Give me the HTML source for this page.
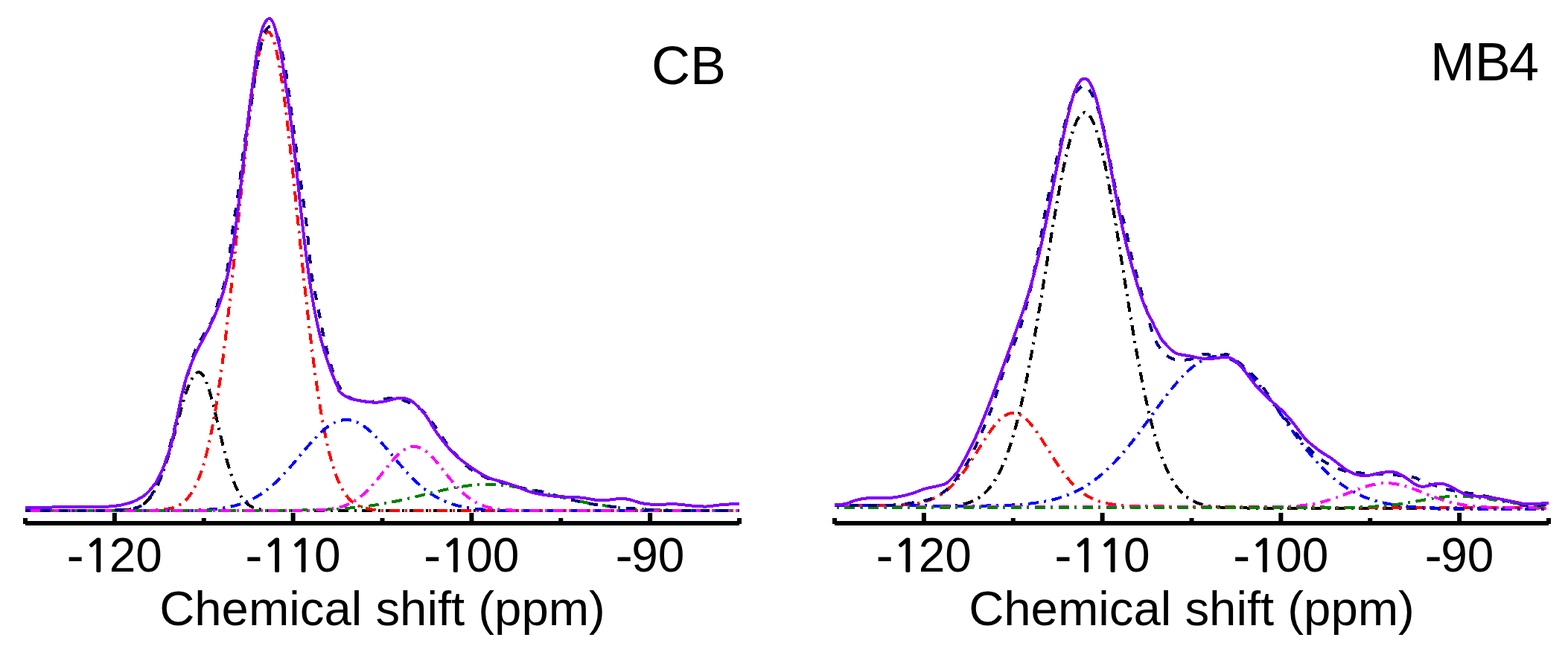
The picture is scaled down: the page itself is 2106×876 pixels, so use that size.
<!DOCTYPE html>
<html><head><meta charset="utf-8"><title>NMR spectra CB and MB4</title>
<style>
html,body{margin:0;padding:0;background:#fff;overflow:hidden;}
svg{display:block;}
text{font-family:"Liberation Sans",Arial,sans-serif;fill:#000;font-kerning:none;}
.tl{font-size:64px;}
.one{font-family:NanumGothic,"Liberation Sans",sans-serif;font-size:60px;stroke:#000;stroke-width:1.8px;}
.hy{font-size:70px;}
.at{font-size:65.3px;}
.tt{font-size:72px;}
</style></head>
<body>
<svg width="2106" height="876" viewBox="0 0 2106 876">
<rect width="2106" height="876" fill="#fff"/>
<g fill="none" stroke-width="4" stroke-linejoin="round" shape-rendering="crispEdges">
<path d="M34,686 L36,686 L38,686 L40,686 L42,686 L44,686 L46,686 L48,686 L50,686 L52,686 L54,686 L56,686 L58,686 L60,686 L62,686 L64,686 L66,686 L68,686 L70,686 L72,686 L74,686 L76,686 L78,686 L80,686 L82,686 L84,686 L86,686 L88,686 L90,686 L92,686 L94,686 L96,686 L98,686 L100,686 L102,686 L104,686 L106,686 L108,686 L110,686 L112,686 L114,686 L116,686 L118,686 L120,686 L122,686 L124,686 L126,686 L128,686 L130,686 L132,686 L134,686 L136,686 L138,686 L140,686 L142,686 L144,686 L146,685.9 L148,685.9 L150,685.9 L152,685.9 L154,685.8 L156,685.8 L158,685.7 L160,685.7 L162,685.6 L164,685.5 L166,685.4 L168,685.2 L170,685 L172,684.8 L174,684.5 L176,684.1 L178,683.7 L180,683.2 L182,682.6 L184,682 L186,681.1 L188,680.2 L190,679.1 L192,677.8 L194,676.4 L196,674.7 L198,672.8 L200,670.6 L202,668.2 L204,665.5 L206,662.5 L208,659.1 L210,655.4 L212,651.4 L214,646.9 L216,642.2 L218,637 L220,631.5 L222,625.6 L224,619.4 L226,612.9 L228,606.1 L230,599.1 L232,591.8 L234,584.4 L236,576.9 L238,569.4 L240,561.9 L242,554.6 L244,547.4 L246,540.4 L248,533.8 L250,527.6 L252,521.9 L254,516.7 L256,512.1 L258,508.2 L260,505 L262,502.6 L264,500.9 L266,500.1 L268,500.1 L270,501.2 L272,503.3 L274,506.4 L276,510.4 L278,515.4 L280,521.1 L282,527.5 L284,534.6 L286,542.2 L288,550.1 L290,558.4 L292,566.8 L294,575.3 L296,583.8 L298,592.2 L300,600.3 L302,608.2 L304,615.8 L306,623 L308,629.8 L310,636.1 L312,642 L314,647.4 L316,652.3 L318,656.8 L320,660.8 L322,664.4 L324,667.6 L326,670.4 L328,672.9 L330,675 L332,676.8 L334,678.4 L336,679.7 L338,680.9 L340,681.8 L342,682.6 L344,683.3 L346,683.8 L348,684.3 L350,684.6 L352,684.9 L354,685.2 L356,685.3 L358,685.5 L360,685.6 L362,685.7 L364,685.8 L366,685.8 L368,685.9 L370,685.9 L372,685.9 L374,685.9 L376,686 L378,686 L380,686 L382,686 L384,686 L386,686 L388,686 L390,686 L392,686 L394,686 L396,686 L398,686 L400,686 L402,686 L404,686 L406,686 L408,686 L410,686 L412,686 L414,686 L416,686 L418,686 L420,686 L422,686 L424,686 L426,686 L428,686 L430,686 L432,686 L434,686 L436,686 L438,686 L440,686 L442,686 L444,686 L446,686 L448,686 L450,686 L452,686 L454,686 L456,686 L458,686 L460,686 L462,686 L464,686 L466,686 L468,686 L470,686 L472,686 L474,686 L476,686 L478,686 L480,686 L482,686 L484,686 L486,686 L488,686 L490,686 L492,686 L494,686 L496,686 L498,686 L500,686 L502,686 L504,686 L506,686 L508,686 L510,686 L512,686 L514,686 L516,686 L518,686 L520,686 L522,686 L524,686 L526,686 L528,686 L530,686 L532,686 L534,686 L536,686 L538,686 L540,686 L542,686 L544,686 L546,686 L548,686 L550,686 L552,686 L554,686 L556,686 L558,686 L560,686 L562,686 L564,686 L566,686 L568,686 L570,686 L572,686 L574,686 L576,686 L578,686 L580,686 L582,686 L584,686 L586,686 L588,686 L590,686 L592,686 L594,686 L596,686 L598,686 L600,686 L602,686 L604,686 L606,686 L608,686 L610,686 L612,686 L614,686 L616,686 L618,686 L620,686 L622,686 L624,686 L626,686 L628,686 L630,686 L632,686 L634,686 L636,686 L638,686 L640,686 L642,686 L644,686 L646,686 L648,686 L650,686 L652,686 L654,686 L656,686 L658,686 L660,686 L662,686 L664,686 L666,686 L668,686 L670,686 L672,686 L674,686 L676,686 L678,686 L680,686 L682,686 L684,686 L686,686 L688,686 L690,686 L692,686 L694,686 L696,686 L698,686 L700,686 L702,686 L704,686 L706,686 L708,686 L710,686 L712,686 L714,686 L716,686 L718,686 L720,686 L722,686 L724,686 L726,686 L728,686 L730,686 L732,686 L734,686 L736,686 L738,686 L740,686 L742,686 L744,686 L746,686 L748,686 L750,686 L752,686 L754,686 L756,686 L758,686 L760,686 L762,686 L764,686 L766,686 L768,686 L770,686 L772,686 L774,686 L776,686 L778,686 L780,686 L782,686 L784,686 L786,686 L788,686 L790,686 L792,686 L794,686 L796,686 L798,686 L800,686 L802,686 L804,686 L806,686 L808,686 L810,686 L812,686 L814,686 L816,686 L818,686 L820,686 L822,686 L824,686 L826,686 L828,686 L830,686 L832,686 L834,686 L836,686 L838,686 L840,686 L842,686 L844,686 L846,686 L848,686 L850,686 L852,686 L854,686 L856,686 L858,686 L860,686 L862,686 L864,686 L866,686 L868,686 L870,686 L872,686 L874,686 L876,686 L878,686 L880,686 L882,686 L884,686 L886,686 L888,686 L890,686 L892,686 L894,686 L896,686 L898,686 L900,686 L902,686 L904,686 L906,686 L908,686 L910,686 L912,686 L914,686 L916,686 L918,686 L920,686 L922,686 L924,686 L926,686 L928,686 L930,686 L932,686 L934,686 L936,686 L938,686 L940,686 L942,686 L944,686 L946,686 L948,686 L950,686 L952,686 L954,686 L956,686 L958,686 L960,686 L962,686 L964,686 L966,686 L968,686 L970,686 L972,686 L974,686 L976,686 L978,686 L980,686 L982,686 L984,686 L986,686 L988,686 L990,686 L992,686 L993,686" stroke="#000000" stroke-dasharray="14 7.5 3 7.5" stroke-dashoffset="0"/>
<path d="M34,686 L36,686 L38,686 L40,686 L42,686 L44,686 L46,686 L48,686 L50,686 L52,686 L54,686 L56,686 L58,686 L60,686 L62,686 L64,686 L66,686 L68,686 L70,686 L72,686 L74,686 L76,686 L78,686 L80,686 L82,686 L84,686 L86,686 L88,686 L90,686 L92,686 L94,686 L96,686 L98,686 L100,686 L102,686 L104,686 L106,686 L108,686 L110,686 L112,686 L114,686 L116,686 L118,686 L120,686 L122,686 L124,686 L126,686 L128,686 L130,686 L132,686 L134,686 L136,686 L138,686 L140,686 L142,686 L144,686 L146,686 L148,686 L150,686 L152,686 L154,686 L156,686 L158,686 L160,686 L162,686 L164,686 L166,686 L168,686 L170,686 L172,686 L174,686 L176,686 L178,686 L180,686 L182,686 L184,686 L186,685.9 L188,685.9 L190,685.9 L192,685.9 L194,685.9 L196,685.9 L198,685.8 L200,685.8 L202,685.7 L204,685.7 L206,685.6 L208,685.5 L210,685.4 L212,685.3 L214,685.2 L216,685 L218,684.8 L220,684.6 L222,684.3 L224,684 L226,683.6 L228,683.2 L230,682.7 L232,682.2 L234,681.5 L236,680.7 L238,679.9 L240,678.9 L242,677.7 L244,676.4 L246,674.9 L248,673.2 L250,671.3 L252,669.2 L254,666.8 L256,664.1 L258,661.1 L260,657.7 L262,654 L264,649.9 L266,645.4 L268,640.3 L270,634.8 L272,628.8 L274,622.3 L276,615.1 L278,607.4 L280,599 L282,589.9 L284,580.2 L286,569.8 L288,558.8 L290,546.9 L292,534.4 L294,521.2 L296,507.2 L298,492.6 L300,477.2 L302,461.3 L304,444.7 L306,427.5 L308,409.8 L310,391.6 L312,373 L314,354.1 L316,334.9 L318,315.5 L320,296 L322,276.5 L324,257.1 L326,238 L328,219.1 L330,200.6 L332,182.7 L334,165.4 L336,148.9 L338,133.3 L340,118.6 L342,104.9 L344,92.4 L346,81.2 L348,71.3 L350,62.8 L352,55.7 L354,50.2 L356,46.2 L358,43.8 L360,43 L362,43.8 L364,46.2 L366,50.2 L368,55.7 L370,62.8 L372,71.3 L374,81.2 L376,92.4 L378,104.9 L380,118.6 L382,133.3 L384,148.9 L386,165.4 L388,182.7 L390,200.6 L392,219.1 L394,238 L396,257.1 L398,276.5 L400,296 L402,315.5 L404,334.9 L406,354.1 L408,373 L410,391.6 L412,409.8 L414,427.5 L416,444.7 L418,461.3 L420,477.2 L422,492.6 L424,507.2 L426,521.2 L428,534.4 L430,546.9 L432,558.8 L434,569.8 L436,580.2 L438,589.9 L440,599 L442,607.4 L444,615.1 L446,622.3 L448,628.8 L450,634.8 L452,640.3 L454,645.4 L456,649.9 L458,654 L460,657.7 L462,661.1 L464,664.1 L466,666.8 L468,669.2 L470,671.3 L472,673.2 L474,674.9 L476,676.4 L478,677.7 L480,678.9 L482,679.9 L484,680.7 L486,681.5 L488,682.2 L490,682.7 L492,683.2 L494,683.6 L496,684 L498,684.3 L500,684.6 L502,684.8 L504,685 L506,685.2 L508,685.3 L510,685.4 L512,685.5 L514,685.6 L516,685.7 L518,685.7 L520,685.8 L522,685.8 L524,685.9 L526,685.9 L528,685.9 L530,685.9 L532,685.9 L534,685.9 L536,686 L538,686 L540,686 L542,686 L544,686 L546,686 L548,686 L550,686 L552,686 L554,686 L556,686 L558,686 L560,686 L562,686 L564,686 L566,686 L568,686 L570,686 L572,686 L574,686 L576,686 L578,686 L580,686 L582,686 L584,686 L586,686 L588,686 L590,686 L592,686 L594,686 L596,686 L598,686 L600,686 L602,686 L604,686 L606,686 L608,686 L610,686 L612,686 L614,686 L616,686 L618,686 L620,686 L622,686 L624,686 L626,686 L628,686 L630,686 L632,686 L634,686 L636,686 L638,686 L640,686 L642,686 L644,686 L646,686 L648,686 L650,686 L652,686 L654,686 L656,686 L658,686 L660,686 L662,686 L664,686 L666,686 L668,686 L670,686 L672,686 L674,686 L676,686 L678,686 L680,686 L682,686 L684,686 L686,686 L688,686 L690,686 L692,686 L694,686 L696,686 L698,686 L700,686 L702,686 L704,686 L706,686 L708,686 L710,686 L712,686 L714,686 L716,686 L718,686 L720,686 L722,686 L724,686 L726,686 L728,686 L730,686 L732,686 L734,686 L736,686 L738,686 L740,686 L742,686 L744,686 L746,686 L748,686 L750,686 L752,686 L754,686 L756,686 L758,686 L760,686 L762,686 L764,686 L766,686 L768,686 L770,686 L772,686 L774,686 L776,686 L778,686 L780,686 L782,686 L784,686 L786,686 L788,686 L790,686 L792,686 L794,686 L796,686 L798,686 L800,686 L802,686 L804,686 L806,686 L808,686 L810,686 L812,686 L814,686 L816,686 L818,686 L820,686 L822,686 L824,686 L826,686 L828,686 L830,686 L832,686 L834,686 L836,686 L838,686 L840,686 L842,686 L844,686 L846,686 L848,686 L850,686 L852,686 L854,686 L856,686 L858,686 L860,686 L862,686 L864,686 L866,686 L868,686 L870,686 L872,686 L874,686 L876,686 L878,686 L880,686 L882,686 L884,686 L886,686 L888,686 L890,686 L892,686 L894,686 L896,686 L898,686 L900,686 L902,686 L904,686 L906,686 L908,686 L910,686 L912,686 L914,686 L916,686 L918,686 L920,686 L922,686 L924,686 L926,686 L928,686 L930,686 L932,686 L934,686 L936,686 L938,686 L940,686 L942,686 L944,686 L946,686 L948,686 L950,686 L952,686 L954,686 L956,686 L958,686 L960,686 L962,686 L964,686 L966,686 L968,686 L970,686 L972,686 L974,686 L976,686 L978,686 L980,686 L982,686 L984,686 L986,686 L988,686 L990,686 L992,686 L993,686" stroke="#FF0000" stroke-dasharray="14 7.5 3 7.5" stroke-dashoffset="6"/>
<path d="M34,686 L36,686 L38,686 L40,686 L42,686 L44,686 L46,686 L48,686 L50,686 L52,686 L54,686 L56,686 L58,686 L60,686 L62,686 L64,686 L66,686 L68,686 L70,686 L72,686 L74,686 L76,686 L78,686 L80,686 L82,686 L84,686 L86,686 L88,686 L90,686 L92,686 L94,686 L96,686 L98,686 L100,686 L102,686 L104,686 L106,686 L108,686 L110,686 L112,686 L114,686 L116,686 L118,686 L120,686 L122,686 L124,686 L126,686 L128,686 L130,686 L132,686 L134,686 L136,686 L138,686 L140,686 L142,686 L144,686 L146,686 L148,686 L150,686 L152,686 L154,686 L156,686 L158,686 L160,686 L162,686 L164,686 L166,686 L168,686 L170,686 L172,686 L174,686 L176,686 L178,686 L180,686 L182,686 L184,686 L186,686 L188,686 L190,686 L192,686 L194,686 L196,686 L198,686 L200,686 L202,686 L204,686 L206,686 L208,686 L210,686 L212,686 L214,686 L216,686 L218,686 L220,686 L222,685.9 L224,685.9 L226,685.9 L228,685.9 L230,685.9 L232,685.9 L234,685.9 L236,685.9 L238,685.9 L240,685.8 L242,685.8 L244,685.8 L246,685.8 L248,685.7 L250,685.7 L252,685.7 L254,685.6 L256,685.6 L258,685.5 L260,685.5 L262,685.4 L264,685.4 L266,685.3 L268,685.2 L270,685.1 L272,685 L274,684.9 L276,684.8 L278,684.7 L280,684.6 L282,684.4 L284,684.3 L286,684.1 L288,683.9 L290,683.7 L292,683.5 L294,683.3 L296,683 L298,682.8 L300,682.5 L302,682.1 L304,681.8 L306,681.4 L308,681.1 L310,680.6 L312,680.2 L314,679.7 L316,679.2 L318,678.7 L320,678.1 L322,677.5 L324,676.8 L326,676.1 L328,675.4 L330,674.6 L332,673.8 L334,672.9 L336,672 L338,671 L340,670 L342,669 L344,667.8 L346,666.7 L348,665.4 L350,664.2 L352,662.8 L354,661.4 L356,660 L358,658.5 L360,656.9 L362,655.3 L364,653.6 L366,651.9 L368,650.1 L370,648.3 L372,646.4 L374,644.5 L376,642.5 L378,640.4 L380,638.3 L382,636.2 L384,634 L386,631.8 L388,629.6 L390,627.3 L392,625 L394,622.7 L396,620.3 L398,618 L400,615.6 L402,613.2 L404,610.8 L406,608.4 L408,606 L410,603.7 L412,601.3 L414,599 L416,596.7 L418,594.5 L420,592.3 L422,590.1 L424,588 L426,585.9 L428,583.9 L430,582 L432,580.1 L434,578.3 L436,576.6 L438,575 L440,573.5 L442,572.1 L444,570.8 L446,569.6 L448,568.5 L450,567.5 L452,566.7 L454,565.9 L456,565.3 L458,564.8 L460,564.4 L462,564.1 L464,564 L466,564 L468,564.1 L470,564.4 L472,564.8 L474,565.3 L476,565.9 L478,566.7 L480,567.5 L482,568.5 L484,569.6 L486,570.8 L488,572.1 L490,573.5 L492,575 L494,576.6 L496,578.3 L498,580.1 L500,582 L502,583.9 L504,585.9 L506,588 L508,590.1 L510,592.3 L512,594.5 L514,596.7 L516,599 L518,601.3 L520,603.7 L522,606 L524,608.4 L526,610.8 L528,613.2 L530,615.6 L532,618 L534,620.3 L536,622.7 L538,625 L540,627.3 L542,629.6 L544,631.8 L546,634 L548,636.2 L550,638.3 L552,640.4 L554,642.5 L556,644.5 L558,646.4 L560,648.3 L562,650.1 L564,651.9 L566,653.6 L568,655.3 L570,656.9 L572,658.5 L574,660 L576,661.4 L578,662.8 L580,664.2 L582,665.4 L584,666.7 L586,667.8 L588,669 L590,670 L592,671 L594,672 L596,672.9 L598,673.8 L600,674.6 L602,675.4 L604,676.1 L606,676.8 L608,677.5 L610,678.1 L612,678.7 L614,679.2 L616,679.7 L618,680.2 L620,680.6 L622,681.1 L624,681.4 L626,681.8 L628,682.1 L630,682.5 L632,682.8 L634,683 L636,683.3 L638,683.5 L640,683.7 L642,683.9 L644,684.1 L646,684.3 L648,684.4 L650,684.6 L652,684.7 L654,684.8 L656,684.9 L658,685 L660,685.1 L662,685.2 L664,685.3 L666,685.4 L668,685.4 L670,685.5 L672,685.5 L674,685.6 L676,685.6 L678,685.7 L680,685.7 L682,685.7 L684,685.8 L686,685.8 L688,685.8 L690,685.8 L692,685.9 L694,685.9 L696,685.9 L698,685.9 L700,685.9 L702,685.9 L704,685.9 L706,685.9 L708,685.9 L710,686 L712,686 L714,686 L716,686 L718,686 L720,686 L722,686 L724,686 L726,686 L728,686 L730,686 L732,686 L734,686 L736,686 L738,686 L740,686 L742,686 L744,686 L746,686 L748,686 L750,686 L752,686 L754,686 L756,686 L758,686 L760,686 L762,686 L764,686 L766,686 L768,686 L770,686 L772,686 L774,686 L776,686 L778,686 L780,686 L782,686 L784,686 L786,686 L788,686 L790,686 L792,686 L794,686 L796,686 L798,686 L800,686 L802,686 L804,686 L806,686 L808,686 L810,686 L812,686 L814,686 L816,686 L818,686 L820,686 L822,686 L824,686 L826,686 L828,686 L830,686 L832,686 L834,686 L836,686 L838,686 L840,686 L842,686 L844,686 L846,686 L848,686 L850,686 L852,686 L854,686 L856,686 L858,686 L860,686 L862,686 L864,686 L866,686 L868,686 L870,686 L872,686 L874,686 L876,686 L878,686 L880,686 L882,686 L884,686 L886,686 L888,686 L890,686 L892,686 L894,686 L896,686 L898,686 L900,686 L902,686 L904,686 L906,686 L908,686 L910,686 L912,686 L914,686 L916,686 L918,686 L920,686 L922,686 L924,686 L926,686 L928,686 L930,686 L932,686 L934,686 L936,686 L938,686 L940,686 L942,686 L944,686 L946,686 L948,686 L950,686 L952,686 L954,686 L956,686 L958,686 L960,686 L962,686 L964,686 L966,686 L968,686 L970,686 L972,686 L974,686 L976,686 L978,686 L980,686 L982,686 L984,686 L986,686 L988,686 L990,686 L992,686 L993,686" stroke="#0000FF" stroke-dasharray="14 7.5 3 7.5" stroke-dashoffset="12"/>
<path d="M34,686 L36,686 L38,686 L40,686 L42,686 L44,686 L46,686 L48,686 L50,686 L52,686 L54,686 L56,686 L58,686 L60,686 L62,686 L64,686 L66,686 L68,686 L70,686 L72,686 L74,686 L76,686 L78,686 L80,686 L82,686 L84,686 L86,686 L88,686 L90,686 L92,686 L94,686 L96,686 L98,686 L100,686 L102,686 L104,686 L106,686 L108,686 L110,686 L112,686 L114,686 L116,686 L118,686 L120,686 L122,686 L124,686 L126,686 L128,686 L130,686 L132,686 L134,686 L136,686 L138,686 L140,686 L142,686 L144,686 L146,686 L148,686 L150,686 L152,686 L154,686 L156,686 L158,686 L160,686 L162,686 L164,686 L166,686 L168,686 L170,686 L172,686 L174,686 L176,686 L178,686 L180,686 L182,686 L184,686 L186,686 L188,686 L190,686 L192,686 L194,686 L196,686 L198,686 L200,686 L202,686 L204,686 L206,686 L208,686 L210,686 L212,686 L214,686 L216,686 L218,686 L220,686 L222,686 L224,686 L226,686 L228,686 L230,686 L232,686 L234,686 L236,686 L238,686 L240,686 L242,686 L244,686 L246,686 L248,686 L250,686 L252,686 L254,686 L256,686 L258,686 L260,686 L262,686 L264,686 L266,686 L268,686 L270,686 L272,686 L274,686 L276,686 L278,686 L280,686 L282,686 L284,686 L286,686 L288,686 L290,686 L292,686 L294,686 L296,686 L298,686 L300,686 L302,686 L304,686 L306,686 L308,686 L310,686 L312,686 L314,686 L316,686 L318,686 L320,686 L322,686 L324,686 L326,686 L328,686 L330,686 L332,686 L334,686 L336,686 L338,686 L340,686 L342,686 L344,685.9 L346,685.9 L348,685.9 L350,685.9 L352,685.9 L354,685.9 L356,685.9 L358,685.9 L360,685.9 L362,685.9 L364,685.9 L366,685.9 L368,685.9 L370,685.9 L372,685.8 L374,685.8 L376,685.8 L378,685.8 L380,685.8 L382,685.8 L384,685.8 L386,685.7 L388,685.7 L390,685.7 L392,685.7 L394,685.7 L396,685.6 L398,685.6 L400,685.6 L402,685.5 L404,685.5 L406,685.5 L408,685.4 L410,685.4 L412,685.4 L414,685.3 L416,685.3 L418,685.2 L420,685.2 L422,685.1 L424,685.1 L426,685 L428,684.9 L430,684.9 L432,684.8 L434,684.7 L436,684.6 L438,684.5 L440,684.5 L442,684.4 L444,684.3 L446,684.2 L448,684.1 L450,684 L452,683.8 L454,683.7 L456,683.6 L458,683.5 L460,683.3 L462,683.2 L464,683 L466,682.9 L468,682.7 L470,682.5 L472,682.4 L474,682.2 L476,682 L478,681.8 L480,681.6 L482,681.4 L484,681.2 L486,680.9 L488,680.7 L490,680.4 L492,680.2 L494,679.9 L496,679.7 L498,679.4 L500,679.1 L502,678.8 L504,678.5 L506,678.2 L508,677.9 L510,677.6 L512,677.2 L514,676.9 L516,676.5 L518,676.2 L520,675.8 L522,675.4 L524,675 L526,674.6 L528,674.2 L530,673.8 L532,673.4 L534,673 L536,672.6 L538,672.1 L540,671.7 L542,671.2 L544,670.8 L546,670.3 L548,669.9 L550,669.4 L552,668.9 L554,668.4 L556,668 L558,667.5 L560,667 L562,666.5 L564,666 L566,665.5 L568,665 L570,664.5 L572,664 L574,663.5 L576,663 L578,662.6 L580,662.1 L582,661.6 L584,661.1 L586,660.6 L588,660.2 L590,659.7 L592,659.2 L594,658.8 L596,658.3 L598,657.9 L600,657.5 L602,657.1 L604,656.6 L606,656.2 L608,655.9 L610,655.5 L612,655.1 L614,654.8 L616,654.4 L618,654.1 L620,653.8 L622,653.5 L624,653.2 L626,652.9 L628,652.7 L630,652.4 L632,652.2 L634,652 L636,651.8 L638,651.7 L640,651.5 L642,651.4 L644,651.3 L646,651.2 L648,651.1 L650,651.1 L652,651 L654,651 L656,651 L658,651 L660,651.1 L662,651.1 L664,651.2 L666,651.3 L668,651.4 L670,651.5 L672,651.7 L674,651.8 L676,652 L678,652.2 L680,652.4 L682,652.7 L684,652.9 L686,653.2 L688,653.5 L690,653.8 L692,654.1 L694,654.4 L696,654.8 L698,655.1 L700,655.5 L702,655.9 L704,656.2 L706,656.6 L708,657.1 L710,657.5 L712,657.9 L714,658.3 L716,658.8 L718,659.2 L720,659.7 L722,660.2 L724,660.6 L726,661.1 L728,661.6 L730,662.1 L732,662.6 L734,663 L736,663.5 L738,664 L740,664.5 L742,665 L744,665.5 L746,666 L748,666.5 L750,667 L752,667.5 L754,668 L756,668.4 L758,668.9 L760,669.4 L762,669.9 L764,670.3 L766,670.8 L768,671.2 L770,671.7 L772,672.1 L774,672.6 L776,673 L778,673.4 L780,673.8 L782,674.2 L784,674.6 L786,675 L788,675.4 L790,675.8 L792,676.2 L794,676.5 L796,676.9 L798,677.2 L800,677.6 L802,677.9 L804,678.2 L806,678.5 L808,678.8 L810,679.1 L812,679.4 L814,679.7 L816,679.9 L818,680.2 L820,680.4 L822,680.7 L824,680.9 L826,681.2 L828,681.4 L830,681.6 L832,681.8 L834,682 L836,682.2 L838,682.4 L840,682.5 L842,682.7 L844,682.9 L846,683 L848,683.2 L850,683.3 L852,683.5 L854,683.6 L856,683.7 L858,683.8 L860,684 L862,684.1 L864,684.2 L866,684.3 L868,684.4 L870,684.5 L872,684.5 L874,684.6 L876,684.7 L878,684.8 L880,684.9 L882,684.9 L884,685 L886,685.1 L888,685.1 L890,685.2 L892,685.2 L894,685.3 L896,685.3 L898,685.4 L900,685.4 L902,685.4 L904,685.5 L906,685.5 L908,685.5 L910,685.6 L912,685.6 L914,685.6 L916,685.7 L918,685.7 L920,685.7 L922,685.7 L924,685.7 L926,685.8 L928,685.8 L930,685.8 L932,685.8 L934,685.8 L936,685.8 L938,685.8 L940,685.9 L942,685.9 L944,685.9 L946,685.9 L948,685.9 L950,685.9 L952,685.9 L954,685.9 L956,685.9 L958,685.9 L960,685.9 L962,685.9 L964,685.9 L966,685.9 L968,686 L970,686 L972,686 L974,686 L976,686 L978,686 L980,686 L982,686 L984,686 L986,686 L988,686 L990,686 L992,686 L993,686" stroke="#008000" stroke-dasharray="14 7.5 3 7.5" stroke-dashoffset="19"/>
<path d="M34,686 L36,686 L38,686 L40,686 L42,686 L44,686 L46,686 L48,686 L50,686 L52,686 L54,686 L56,686 L58,686 L60,686 L62,686 L64,686 L66,686 L68,686 L70,686 L72,686 L74,686 L76,686 L78,686 L80,686 L82,686 L84,686 L86,686 L88,686 L90,686 L92,686 L94,686 L96,686 L98,686 L100,686 L102,686 L104,686 L106,686 L108,686 L110,686 L112,686 L114,686 L116,686 L118,686 L120,686 L122,686 L124,686 L126,686 L128,686 L130,686 L132,686 L134,686 L136,686 L138,686 L140,686 L142,686 L144,686 L146,686 L148,686 L150,686 L152,686 L154,686 L156,686 L158,686 L160,686 L162,686 L164,686 L166,686 L168,686 L170,686 L172,686 L174,686 L176,686 L178,686 L180,686 L182,686 L184,686 L186,686 L188,686 L190,686 L192,686 L194,686 L196,686 L198,686 L200,686 L202,686 L204,686 L206,686 L208,686 L210,686 L212,686 L214,686 L216,686 L218,686 L220,686 L222,686 L224,686 L226,686 L228,686 L230,686 L232,686 L234,686 L236,686 L238,686 L240,686 L242,686 L244,686 L246,686 L248,686 L250,686 L252,686 L254,686 L256,686 L258,686 L260,686 L262,686 L264,686 L266,686 L268,686 L270,686 L272,686 L274,686 L276,686 L278,686 L280,686 L282,686 L284,686 L286,686 L288,686 L290,686 L292,686 L294,686 L296,686 L298,686 L300,686 L302,686 L304,686 L306,686 L308,686 L310,686 L312,686 L314,686 L316,686 L318,686 L320,686 L322,686 L324,686 L326,686 L328,686 L330,686 L332,686 L334,686 L336,686 L338,686 L340,686 L342,686 L344,686 L346,686 L348,686 L350,686 L352,686 L354,686 L356,686 L358,686 L360,686 L362,686 L364,686 L366,686 L368,686 L370,686 L372,686 L374,686 L376,686 L378,686 L380,686 L382,686 L384,686 L386,686 L388,686 L390,686 L392,686 L394,686 L396,686 L398,685.9 L400,685.9 L402,685.9 L404,685.9 L406,685.9 L408,685.9 L410,685.8 L412,685.8 L414,685.8 L416,685.7 L418,685.7 L420,685.6 L422,685.6 L424,685.5 L426,685.4 L428,685.3 L430,685.2 L432,685.1 L434,685 L436,684.8 L438,684.6 L440,684.4 L442,684.2 L444,683.9 L446,683.6 L448,683.3 L450,683 L452,682.6 L454,682.1 L456,681.6 L458,681.1 L460,680.5 L462,679.8 L464,679.1 L466,678.3 L468,677.4 L470,676.5 L472,675.5 L474,674.4 L476,673.2 L478,671.9 L480,670.6 L482,669.1 L484,667.6 L486,666 L488,664.3 L490,662.5 L492,660.6 L494,658.6 L496,656.5 L498,654.4 L500,652.2 L502,649.9 L504,647.5 L506,645.1 L508,642.7 L510,640.2 L512,637.6 L514,635.1 L516,632.6 L518,630 L520,627.5 L522,625 L524,622.6 L526,620.2 L528,617.9 L530,615.7 L532,613.5 L534,611.5 L536,609.6 L538,607.9 L540,606.3 L542,604.9 L544,603.6 L546,602.5 L548,601.6 L550,600.9 L552,600.4 L554,600.1 L556,600 L558,600.1 L560,600.4 L562,600.9 L564,601.6 L566,602.5 L568,603.6 L570,604.9 L572,606.3 L574,607.9 L576,609.6 L578,611.5 L580,613.5 L582,615.7 L584,617.9 L586,620.2 L588,622.6 L590,625 L592,627.5 L594,630 L596,632.6 L598,635.1 L600,637.6 L602,640.2 L604,642.7 L606,645.1 L608,647.5 L610,649.9 L612,652.2 L614,654.4 L616,656.5 L618,658.6 L620,660.6 L622,662.5 L624,664.3 L626,666 L628,667.6 L630,669.1 L632,670.6 L634,671.9 L636,673.2 L638,674.4 L640,675.5 L642,676.5 L644,677.4 L646,678.3 L648,679.1 L650,679.8 L652,680.5 L654,681.1 L656,681.6 L658,682.1 L660,682.6 L662,683 L664,683.3 L666,683.6 L668,683.9 L670,684.2 L672,684.4 L674,684.6 L676,684.8 L678,685 L680,685.1 L682,685.2 L684,685.3 L686,685.4 L688,685.5 L690,685.6 L692,685.6 L694,685.7 L696,685.7 L698,685.8 L700,685.8 L702,685.8 L704,685.9 L706,685.9 L708,685.9 L710,685.9 L712,685.9 L714,685.9 L716,686 L718,686 L720,686 L722,686 L724,686 L726,686 L728,686 L730,686 L732,686 L734,686 L736,686 L738,686 L740,686 L742,686 L744,686 L746,686 L748,686 L750,686 L752,686 L754,686 L756,686 L758,686 L760,686 L762,686 L764,686 L766,686 L768,686 L770,686 L772,686 L774,686 L776,686 L778,686 L780,686 L782,686 L784,686 L786,686 L788,686 L790,686 L792,686 L794,686 L796,686 L798,686 L800,686 L802,686 L804,686 L806,686 L808,686 L810,686 L812,686 L814,686 L816,686 L818,686 L820,686 L822,686 L824,686 L826,686 L828,686 L830,686 L832,686 L834,686 L836,686 L838,686 L840,686 L842,686 L844,686 L846,686 L848,686 L850,686 L852,686 L854,686 L856,686 L858,686 L860,686 L862,686 L864,686 L866,686 L868,686 L870,686 L872,686 L874,686 L876,686 L878,686 L880,686 L882,686 L884,686 L886,686 L888,686 L890,686 L892,686 L894,686 L896,686 L898,686 L900,686 L902,686 L904,686 L906,686 L908,686 L910,686 L912,686 L914,686 L916,686 L918,686 L920,686 L922,686 L924,686 L926,686 L928,686 L930,686 L932,686 L934,686 L936,686 L938,686 L940,686 L942,686 L944,686 L946,686 L948,686 L950,686 L952,686 L954,686 L956,686 L958,686 L960,686 L962,686 L964,686 L966,686 L968,686 L970,686 L972,686 L974,686 L976,686 L978,686 L980,686 L982,686 L984,686 L986,686 L988,686 L990,686 L992,686 L993,686" stroke="#FF00FF" stroke-dasharray="14 7.5 3 7.5" stroke-dashoffset="26"/>
<path d="M34,686 C45,686 80.7,686.1 100,686 C119.3,685.9 139.2,685.7 150,685.5 C160.8,685.3 160.3,685.4 165,685 C169.7,684.6 174,683.8 178,683 C182,682.2 185.3,682.2 189,680 C192.7,677.8 196.8,673.8 200,670 C203.2,666.2 205.7,661.7 208,657.5 C210.3,653.3 212,649.9 214,645 C216,640.1 218,634.3 220,628 C222,621.7 224,614.2 226,607 C228,599.8 230.1,592.3 232,585 C233.9,577.7 235.2,572.8 237.5,563 C239.8,553.2 243.5,536 246,526 C248.5,516 250.2,511.2 252.5,503 C254.8,494.8 256.9,485.2 260,477 C263.1,468.8 266.8,461.8 271,454 C275.2,446.2 281.2,438.5 285,430 C288.8,421.5 290.8,413 294,403 C297.2,393 300.8,386.3 304,370 C307.2,353.7 310.2,324.7 313,305 C315.8,285.3 318.5,270 321,251.7 C323.5,233.4 325.5,211.9 328,195 C330.5,178.1 333.5,165.5 336,150 C338.5,134.5 341,114.5 343,102 C345,89.5 346.4,83.7 348,75 C349.6,66.3 351.2,55.5 352.5,50 C353.8,44.5 354.4,44.3 356,42 C357.6,39.7 360,36.3 362,36 C364,35.7 366,37.3 368,40 C370,42.7 372,46.2 374,52 C376,57.8 378.1,66 380,75 C381.9,84 382.8,86.8 385.5,106 C388.2,125.2 393.2,165.7 396.5,190 C399.8,214.3 402.4,232.8 405,252 C407.6,271.2 409.8,286.2 412,305 C414.2,323.8 416.5,352 418,365 C419.5,378 419.8,376.3 421,383 C422.2,389.7 424,397.5 425.5,405 C427,412.5 428.5,420.3 430,428 C431.5,435.7 432.8,443.3 434.5,451 C436.2,458.7 438,466.3 440,474 C442,481.7 444,489.7 446.5,497 C449,504.3 451.8,512.2 455,518 C458.2,523.8 461.5,528.6 466,532 C470.5,535.4 476.2,537.2 482,538.5 C487.8,539.8 495.2,539.9 501,539.5 C506.8,539.1 512.3,536.8 517,536 C521.7,535.2 525.2,534.8 529,535 C532.8,535.2 535.7,535.5 540,537 C544.3,538.5 550.2,541.2 555,544 C559.8,546.8 563.8,548.3 569,553.5 C574.2,558.7 580.8,567.9 586,575 C591.2,582.1 594.8,589.2 600,596 C605.2,602.8 611.5,610.2 617,616 C622.5,621.8 626.5,626.5 633,631 C639.5,635.5 648,639.8 656,643 C664,646.2 672.8,647.8 681,650 C689.2,652.2 696.8,654.7 705,656.5 C713.2,658.3 721.5,659 730,661 C738.5,663 747.9,666.4 756,668.6 C764.1,670.8 771,672.4 778.8,674 C786.6,675.6 794.6,677.2 803,678.5 C811.4,679.8 820.7,680.7 829,681.5 C837.3,682.3 844.9,682.9 853,683.5 C861.1,684.1 868.1,684.6 877.6,685 C887.1,685.4 890.8,685.8 910,686 C929.2,686.2 979.2,686 993,686" stroke="#000080" stroke-dasharray="12 13" stroke-dashoffset="5"/>
<path d="M34,682.5 C38.3,682.4 49,682.1 60,681.8 C71,681.5 89.3,680.9 100,680.8 C110.7,680.7 116,681.1 124,681 C132,680.9 141.3,680.9 148,680.4 C154.7,679.9 158.7,679.4 164,678.3 C169.3,677.1 174.7,675.9 180,673.5 C185.3,671.1 191.2,668 196,664 C200.8,660 205.9,652.9 208.6,649.5 C211.2,646.1 210.9,645.5 212,643.5 C213,641.5 214.1,639.4 215.1,637.4 C216.1,635.4 217,633.4 217.9,631.4 C218.8,629.4 219.7,627.4 220.5,625.4 C221.3,623.3 222.1,621.3 222.8,619.3 C223.6,617.3 224.3,615.3 225,613.3 C225.7,611.3 226.3,609.3 227,607.3 C227.6,605.2 228.2,603.2 228.7,601.2 C229.3,599.2 229.9,597.2 230.4,595.2 C230.9,593.2 231.4,591.2 231.9,589.1 C232.4,587.1 232.9,585.1 233.3,583.1 C233.8,581.1 234.2,579.1 234.6,577.1 C235.1,575.1 235.5,573 235.9,571 C236.3,569 236.7,567 237.1,565 C237.5,563 237.9,561 238.3,559 C238.7,557 239.1,554.9 239.5,552.9 C239.9,550.9 240.3,548.9 240.7,546.9 C241.1,544.9 241.5,542.9 241.9,540.9 C242.3,538.8 242.8,536.8 243.2,534.8 C243.7,532.8 244.1,530.8 244.6,528.8 C245.1,526.8 245.5,524.8 246,522.8 C246.6,520.7 247.1,518.7 247.6,516.7 C248.2,514.7 248.7,512.7 249.3,510.7 C249.9,508.7 250.5,506.7 251.2,504.6 C251.8,502.6 252.5,500.6 253.2,498.6 C253.9,496.6 254.6,494.6 255.4,492.6 C256.1,490.6 256.9,488.6 257.7,486.5 C258.6,484.5 259.4,482.5 260.3,480.5 C261.2,478.5 262.2,476.5 263.1,474.5 C264.1,472.5 265.1,470.4 266.1,468.4 C267.2,466.4 268.2,464.4 269.3,462.4 C270.3,460.4 271.4,458.4 272.5,456.4 C273.5,454.4 274.6,452.3 275.7,450.3 C276.8,448.3 277.8,446.3 278.9,444.3 C279.9,442.3 280.9,440.3 281.9,438.3 C282.9,436.2 283.9,434.2 284.8,432.2 C285.8,430.2 286.7,428.2 287.5,426.2 C288.4,424.2 289.3,422.2 290.1,420.1 C290.9,418.1 291.7,416.1 292.5,414.1 C293.2,412.1 294,410.1 294.7,408.1 C295.4,406.1 296.1,404.1 296.8,402 C297.4,400 298.1,398 298.7,396 C299.3,394 299.9,392 300.5,390 C301.1,388 301.6,385.9 302.2,383.9 C302.7,381.9 303.2,379.9 303.7,377.9 C304.2,375.9 304.7,373.9 305.2,371.9 C305.7,369.9 306.1,367.8 306.5,365.8 C307,363.8 307.4,361.8 307.8,359.8 C308.2,357.8 308.6,355.8 309,353.8 C309.4,351.7 309.8,349.7 310.1,347.7 C310.5,345.7 310.8,343.7 311.2,341.7 C311.5,339.7 311.8,337.7 312.2,335.7 C312.5,333.6 312.8,331.6 313.1,329.6 C313.4,327.6 313.7,325.6 314,323.6 C314.3,321.6 314.6,319.6 314.9,317.5 C315.2,315.5 315.5,313.5 315.8,311.5 C316,309.5 316.3,307.5 316.6,305.5 C316.9,303.5 317.1,301.4 317.4,299.4 C317.7,297.4 317.9,295.4 318.2,293.4 C318.4,291.4 318.7,289.4 318.9,287.4 C319.2,285.4 319.4,283.3 319.7,281.3 C319.9,279.3 320.2,277.3 320.4,275.3 C320.7,273.3 320.9,271.3 321.1,269.3 C321.4,267.2 321.6,265.2 321.8,263.2 C322.1,261.2 322.3,259.2 322.5,257.2 C322.8,255.2 323,253.2 323.2,251.2 C323.4,249.1 323.7,247.1 323.9,245.1 C324.1,243.1 324.3,241.1 324.5,239.1 C324.8,237.1 325,235.1 325.2,233 C325.4,231 325.6,229 325.9,227 C326.1,225 326.3,223 326.5,221 C326.7,219 326.9,217 327.2,214.9 C327.4,212.9 327.6,210.9 327.8,208.9 C328,206.9 328.2,204.9 328.5,202.9 C328.7,200.9 328.9,198.8 329.1,196.8 C329.3,194.8 329.5,192.8 329.8,190.8 C330,188.8 330.2,186.8 330.4,184.8 C330.6,182.8 330.9,180.7 331.1,178.7 C331.3,176.7 331.6,174.7 331.8,172.7 C332,170.7 332.2,168.7 332.5,166.7 C332.7,164.6 332.9,162.6 333.2,160.6 C333.4,158.6 333.6,156.6 333.9,154.6 C334.1,152.6 334.4,150.6 334.6,148.5 C334.9,146.5 335.1,144.5 335.4,142.5 C335.6,140.5 335.9,138.5 336.1,136.5 C336.4,134.5 336.7,132.5 336.9,130.4 C337.2,128.4 337.5,126.4 337.7,124.4 C338,122.4 338.3,120.4 338.6,118.4 C338.8,116.4 339.1,114.3 339.4,112.3 C339.7,110.3 339.4,113 340.3,106.3 C341.2,99.6 343.3,81.5 344.8,72 C346.3,62.5 347.8,55.7 349.4,49.2 C351,42.7 352.5,37 354.5,33 C356.5,29 359.2,25.2 361.4,25 C363.6,24.8 365.7,28 367.5,32 C369.3,36 370.6,42.5 372.2,49.2 C373.8,55.9 375.7,62.5 377.4,72 C379.1,81.5 381.6,99.6 382.7,106.3 C383.7,113 383.3,110.3 383.6,112.3 C383.9,114.3 384.2,116.3 384.5,118.3 C384.8,120.3 385.1,122.3 385.4,124.3 C385.7,126.3 386,128.3 386.3,130.3 C386.6,132.3 386.9,134.3 387.1,136.3 C387.4,138.3 387.7,140.3 388,142.3 C388.2,144.3 388.5,146.3 388.8,148.3 C389,150.4 389.3,152.4 389.6,154.4 C389.8,156.4 390.1,158.4 390.3,160.4 C390.6,162.4 390.9,164.4 391.1,166.4 C391.4,168.4 391.6,170.4 391.9,172.4 C392.1,174.4 392.3,176.4 392.6,178.4 C392.8,180.4 393.1,182.4 393.3,184.4 C393.5,186.4 393.8,188.4 394,190.4 C394.2,192.4 394.5,194.4 394.7,196.4 C394.9,198.4 395.2,200.4 395.4,202.4 C395.6,204.4 395.9,206.4 396.1,208.4 C396.3,210.4 396.5,212.4 396.7,214.4 C397,216.4 397.2,218.4 397.4,220.4 C397.6,222.4 397.9,224.4 398.1,226.4 C398.3,228.4 398.5,230.4 398.7,232.4 C398.9,234.5 399.2,236.5 399.4,238.5 C399.6,240.5 399.8,242.5 400,244.5 C400.2,246.5 400.5,248.5 400.7,250.5 C400.9,252.5 401.1,254.5 401.3,256.5 C401.5,258.5 401.8,260.5 402,262.5 C402.2,264.5 402.4,266.5 402.6,268.5 C402.8,270.5 403.1,272.5 403.3,274.5 C403.5,276.5 403.7,278.5 403.9,280.5 C404.2,282.5 404.4,284.5 404.6,286.5 C404.8,288.5 405,290.5 405.3,292.5 C405.5,294.5 405.7,296.5 405.9,298.5 C406.2,300.5 406.4,302.5 406.6,304.5 C406.8,306.5 407.1,308.5 407.3,310.5 C407.5,312.5 407.8,314.5 408,316.5 C408.3,318.6 408.5,320.6 408.7,322.6 C409,324.6 409.2,326.6 409.5,328.6 C409.7,330.6 409.9,332.6 410.2,334.6 C410.4,336.6 410.7,338.6 410.9,340.6 C411.2,342.6 411.5,344.6 411.7,346.6 C412,348.6 412.2,350.6 412.5,352.6 C412.8,354.6 413,356.6 413.3,358.6 C413.6,360.6 413.8,362.6 414.1,364.6 C414.4,366.6 414.7,368.6 415,370.6 C415.2,372.6 415.5,374.6 415.8,376.6 C416.1,378.6 416.4,380.6 416.7,382.6 C417,384.6 417.3,386.6 417.6,388.6 C417.9,390.6 418.2,392.6 418.6,394.6 C418.9,396.6 419.2,398.6 419.6,400.6 C419.9,402.7 420.2,404.7 420.6,406.7 C420.9,408.7 421.3,410.7 421.7,412.7 C422,414.7 422.4,416.7 422.8,418.7 C423.2,420.7 423.6,422.7 424,424.7 C424.4,426.7 424.8,428.7 425.2,430.7 C425.6,432.7 426.1,434.7 426.5,436.7 C427,438.7 427.4,440.7 427.9,442.7 C428.3,444.7 428.8,446.7 429.3,448.7 C429.8,450.7 430.3,452.7 430.8,454.7 C431.4,456.7 431.9,458.7 432.4,460.7 C433,462.7 433.6,464.7 434.1,466.7 C434.7,468.7 435.3,470.7 435.9,472.7 C436.5,474.7 437.1,476.7 437.8,478.7 C438.4,480.7 439.1,482.7 439.7,484.7 C440.4,486.8 441.1,488.8 441.8,490.8 C442.5,492.8 443.2,494.8 444,496.8 C444.7,498.8 445.5,500.8 446.3,502.8 C447.1,504.8 447.9,506.8 448.7,508.8 C449.5,510.8 450.4,512.8 451.2,514.8 C452.1,516.8 453,518.8 453.9,520.8 C454.8,522.8 454.5,524.6 456.6,526.8 C458.8,529 463.4,532 466.6,533.7 C469.8,535.4 470.6,535.9 476,537 C481.4,538.1 493.5,539.8 498.7,540.4 C503.9,541 503.9,540.8 507,540.6 C510.1,540.4 513,540 517,539.2 C521,538.4 527,536.5 530.7,535.8 C534.4,535 535.3,534.2 539,534.7 C542.7,535.2 547.4,535.1 552.7,538.8 C558,542.5 565.3,549.8 571,557 C576.7,564.2 580.5,573.2 587,582 C593.5,590.8 602.2,602 609.8,609.6 C617.4,617.2 625,622.5 632.6,627.8 C640.2,633.1 647.8,638.1 655.5,641.6 C663.2,645.1 672.4,646.4 679,648.5 C685.6,650.6 690,652.2 695.2,654.2 C700.4,656.2 705.3,658.6 710.4,660.3 C715.5,661.9 719.3,663 725.6,664.1 C731.9,665.2 740.8,666.5 748.4,667.1 C756,667.7 764.9,667.5 771.2,667.9 C777.5,668.3 780.8,668.6 786.4,669.4 C792,670.1 799.5,672 804.6,672.4 C809.7,672.8 811.7,672.1 816.8,671.7 C821.9,671.3 829.9,669.8 835,669.8 C840.1,669.8 842.6,670.6 847.2,671.7 C851.8,672.8 857.3,675.2 862.4,676.2 C867.5,677.2 870,677.6 877.6,677.8 C885.2,678 899.1,677.1 908,677.4 C916.9,677.7 924,679.2 930.8,679.7 C937.6,680.2 942.7,680.8 949,680.5 C955.3,680.2 961.5,678.8 968.8,678.2 C976.1,677.6 989,677 993,676.7" stroke="#8000FF" stroke-width="4"/>
<path d="M1121,680.5 L1123,680.5 L1125,680.5 L1127,680.5 L1129,680.5 L1131,680.5 L1133,680.5 L1135,680.6 L1137,680.6 L1139,680.6 L1141,680.6 L1143,680.6 L1145,680.6 L1147,680.6 L1149,680.6 L1151,680.6 L1153,680.6 L1155,680.6 L1157,680.6 L1159,680.6 L1161,680.6 L1163,680.7 L1165,680.7 L1167,680.7 L1169,680.7 L1171,680.7 L1173,680.7 L1175,680.7 L1177,680.7 L1179,680.7 L1181,680.7 L1183,680.7 L1185,680.7 L1187,680.7 L1189,680.7 L1191,680.8 L1193,680.8 L1195,680.8 L1197,680.8 L1199,680.8 L1201,680.8 L1203,680.8 L1205,680.8 L1207,680.8 L1209,680.8 L1211,680.8 L1213,680.8 L1215,680.8 L1217,680.8 L1219,680.8 L1221,680.8 L1223,680.9 L1225,680.9 L1227,680.9 L1229,680.9 L1231,680.9 L1233,680.9 L1235,680.9 L1237,680.9 L1239,680.8 L1241,680.8 L1243,680.8 L1245,680.8 L1247,680.8 L1249,680.8 L1251,680.8 L1253,680.7 L1255,680.7 L1257,680.7 L1259,680.6 L1261,680.6 L1263,680.5 L1265,680.4 L1267,680.4 L1269,680.3 L1271,680.2 L1273,680 L1275,679.9 L1277,679.7 L1279,679.6 L1281,679.4 L1283,679.1 L1285,678.9 L1287,678.6 L1289,678.2 L1291,677.9 L1293,677.5 L1295,677 L1297,676.5 L1299,675.9 L1301,675.3 L1303,674.6 L1305,673.8 L1307,672.9 L1309,671.9 L1311,670.9 L1313,669.7 L1315,668.5 L1317,667.1 L1319,665.5 L1321,663.9 L1323,662.1 L1325,660.1 L1327,657.9 L1329,655.6 L1331,653.1 L1333,650.4 L1335,647.4 L1337,644.3 L1339,640.9 L1341,637.2 L1343,633.3 L1345,629.2 L1347,624.7 L1349,620 L1351,614.9 L1353,609.6 L1355,603.9 L1357,597.9 L1359,591.5 L1361,584.9 L1363,577.8 L1365,570.5 L1367,562.8 L1369,554.7 L1371,546.3 L1373,537.5 L1375,528.4 L1377,519 L1379,509.2 L1381,499.1 L1383,488.7 L1385,478.1 L1387,467.1 L1389,455.9 L1391,444.4 L1393,432.7 L1395,420.9 L1397,408.9 L1399,396.7 L1401,384.5 L1403,372.1 L1405,359.8 L1407,347.4 L1409,335.1 L1411,322.8 L1413,310.7 L1415,298.7 L1417,286.9 L1419,275.4 L1421,264.1 L1423,253.2 L1425,242.6 L1427,232.4 L1429,222.7 L1431,213.5 L1433,204.7 L1435,196.6 L1437,189 L1439,182 L1441,175.7 L1443,170.1 L1445,165.1 L1447,160.9 L1449,157.4 L1451,154.7 L1453,152.8 L1455,151.6 L1457,151.2 L1459,151.6 L1461,152.9 L1463,154.9 L1465,157.7 L1467,161.4 L1469,165.8 L1471,170.9 L1473,176.8 L1475,183.3 L1477,190.6 L1479,198.4 L1481,206.9 L1483,216 L1485,225.5 L1487,235.6 L1489,246.1 L1491,257.1 L1493,268.3 L1495,280 L1497,291.8 L1499,303.9 L1501,316.2 L1503,328.7 L1505,341.2 L1507,353.8 L1509,366.5 L1511,379.1 L1513,391.6 L1515,404.1 L1517,416.4 L1519,428.6 L1521,440.6 L1523,452.3 L1525,463.9 L1527,475.2 L1529,486.2 L1531,496.8 L1533,507.2 L1535,517.3 L1537,527 L1539,536.4 L1541,545.4 L1543,554 L1545,562.3 L1547,570.3 L1549,577.8 L1551,585 L1553,591.9 L1555,598.4 L1557,604.5 L1559,610.3 L1561,615.8 L1563,620.9 L1565,625.8 L1567,630.3 L1569,634.6 L1571,638.5 L1573,642.2 L1575,645.7 L1577,648.9 L1579,651.8 L1581,654.6 L1583,657.1 L1585,659.5 L1587,661.6 L1589,663.6 L1591,665.4 L1593,667.1 L1595,668.6 L1597,670 L1599,671.2 L1601,672.4 L1603,673.4 L1605,674.4 L1607,675.3 L1609,676 L1611,676.7 L1613,677.4 L1615,677.9 L1617,678.4 L1619,678.9 L1621,679.3 L1623,679.7 L1625,680 L1627,680.3 L1629,680.6 L1631,680.8 L1633,681 L1635,681.2 L1637,681.3 L1639,681.5 L1641,681.6 L1643,681.7 L1645,681.8 L1647,681.9 L1649,682 L1651,682.1 L1653,682.1 L1655,682.2 L1657,682.2 L1659,682.3 L1661,682.3 L1663,682.3 L1665,682.4 L1667,682.4 L1669,682.4 L1671,682.4 L1673,682.4 L1675,682.5 L1677,682.5 L1679,682.5 L1681,682.5 L1683,682.5 L1685,682.5 L1687,682.5 L1689,682.6 L1691,682.6 L1693,682.6 L1695,682.6 L1697,682.6 L1699,682.6 L1701,682.6 L1703,682.6 L1705,682.6 L1707,682.6 L1709,682.6 L1711,682.7 L1713,682.7 L1715,682.7 L1717,682.7 L1719,682.7 L1721,682.7 L1723,682.7 L1725,682.7 L1727,682.7 L1729,682.7 L1731,682.7 L1733,682.7 L1735,682.7 L1737,682.7 L1739,682.8 L1741,682.8 L1743,682.8 L1745,682.8 L1747,682.8 L1749,682.8 L1751,682.8 L1753,682.8 L1755,682.8 L1757,682.8 L1759,682.8 L1761,682.8 L1763,682.8 L1765,682.9 L1767,682.9 L1769,682.9 L1771,682.9 L1773,682.9 L1775,682.9 L1777,682.9 L1779,682.9 L1781,682.9 L1783,682.9 L1785,682.9 L1787,682.9 L1789,682.9 L1791,682.9 L1793,683 L1795,683 L1797,683 L1799,683 L1801,683 L1803,683 L1805,683 L1807,683 L1809,683 L1811,683 L1813,683 L1815,683 L1817,683 L1819,683 L1821,683.1 L1823,683.1 L1825,683.1 L1827,683.1 L1829,683.1 L1831,683.1 L1833,683.1 L1835,683.1 L1837,683.1 L1839,683.1 L1841,683.1 L1843,683.1 L1845,683.1 L1847,683.1 L1849,683.2 L1851,683.2 L1853,683.2 L1855,683.2 L1857,683.2 L1859,683.2 L1861,683.2 L1863,683.2 L1865,683.2 L1867,683.2 L1869,683.2 L1871,683.2 L1873,683.2 L1875,683.3 L1877,683.3 L1879,683.3 L1881,683.3 L1883,683.3 L1885,683.3 L1887,683.3 L1889,683.3 L1891,683.3 L1893,683.3 L1895,683.3 L1897,683.3 L1899,683.3 L1901,683.3 L1903,683.4 L1905,683.4 L1907,683.4 L1909,683.4 L1911,683.4 L1913,683.4 L1915,683.4 L1917,683.4 L1919,683.4 L1921,683.4 L1923,683.4 L1925,683.4 L1927,683.4 L1929,683.4 L1931,683.5 L1933,683.5 L1935,683.5 L1937,683.5 L1939,683.5 L1941,683.5 L1943,683.5 L1945,683.5 L1947,683.5 L1949,683.5 L1951,683.5 L1953,683.5 L1955,683.5 L1957,683.6 L1959,683.6 L1961,683.6 L1963,683.6 L1965,683.6 L1967,683.6 L1969,683.6 L1971,683.6 L1973,683.6 L1975,683.6 L1977,683.6 L1979,683.6 L1981,683.6 L1983,683.6 L1985,683.7 L1987,683.7 L1989,683.7 L1991,683.7 L1993,683.7 L1995,683.7 L1997,683.7 L1999,683.7 L2001,683.7 L2003,683.7 L2005,683.7 L2007,683.7 L2009,683.7 L2011,683.7 L2013,683.8 L2015,683.8 L2017,683.8 L2019,683.8 L2021,683.8 L2023,683.8 L2025,683.8 L2027,683.8 L2029,683.8 L2031,683.8 L2033,683.8 L2035,683.8 L2037,683.8 L2039,683.9 L2041,683.9 L2043,683.9 L2045,683.9 L2047,683.9 L2049,683.9 L2051,683.9 L2053,683.9 L2055,683.9 L2057,683.9 L2059,683.9 L2061,683.9 L2063,683.9 L2065,683.9 L2067,684 L2069,684 L2071,684 L2073,684 L2075,684 L2077,684 L2079,684 L2080,684" stroke="#000000" stroke-dasharray="14 7.5 3 7.5" stroke-dashoffset="19"/>
<path d="M1121,679.2 L1123,679.2 L1125,679.2 L1127,679.2 L1129,679.2 L1131,679.2 L1133,679.2 L1135,679.2 L1137,679.2 L1139,679.2 L1141,679.2 L1143,679.2 L1145,679.2 L1147,679.2 L1149,679.2 L1151,679.2 L1153,679.2 L1155,679.2 L1157,679.2 L1159,679.2 L1161,679.2 L1163,679.2 L1165,679.2 L1167,679.1 L1169,679.1 L1171,679.1 L1173,679.1 L1175,679.1 L1177,679.1 L1179,679.1 L1181,679.1 L1183,679 L1185,679 L1187,679 L1189,679 L1191,678.9 L1193,678.9 L1195,678.9 L1197,678.8 L1199,678.8 L1201,678.7 L1203,678.7 L1205,678.6 L1207,678.5 L1209,678.4 L1211,678.3 L1213,678.2 L1215,678 L1217,677.9 L1219,677.7 L1221,677.6 L1223,677.3 L1225,677.1 L1227,676.9 L1229,676.6 L1231,676.3 L1233,675.9 L1235,675.6 L1237,675.1 L1239,674.7 L1241,674.2 L1243,673.6 L1245,673.1 L1247,672.4 L1249,671.7 L1251,670.9 L1253,670.1 L1255,669.2 L1257,668.2 L1259,667.2 L1261,666.1 L1263,664.9 L1265,663.6 L1267,662.2 L1269,660.7 L1271,659.2 L1273,657.5 L1275,655.8 L1277,653.9 L1279,652 L1281,650 L1283,647.8 L1285,645.6 L1287,643.2 L1289,640.8 L1291,638.3 L1293,635.7 L1295,633 L1297,630.2 L1299,627.3 L1301,624.4 L1303,621.4 L1305,618.3 L1307,615.2 L1309,612.1 L1311,608.9 L1313,605.7 L1315,602.5 L1317,599.3 L1319,596.2 L1321,593 L1323,589.9 L1325,586.8 L1327,583.8 L1329,580.9 L1331,578.1 L1333,575.3 L1335,572.7 L1337,570.2 L1339,567.9 L1341,565.7 L1343,563.7 L1345,561.9 L1347,560.3 L1349,558.8 L1351,557.6 L1353,556.6 L1355,555.8 L1357,555.2 L1359,554.9 L1361,554.8 L1363,554.9 L1365,555.2 L1367,555.8 L1369,556.6 L1371,557.6 L1373,558.9 L1375,560.3 L1377,562 L1379,563.8 L1381,565.9 L1383,568 L1385,570.4 L1387,572.9 L1389,575.5 L1391,578.2 L1393,581.1 L1395,584 L1397,587 L1399,590.1 L1401,593.3 L1403,596.4 L1405,599.6 L1407,602.8 L1409,606 L1411,609.2 L1413,612.4 L1415,615.6 L1417,618.7 L1419,621.8 L1421,624.8 L1423,627.7 L1425,630.6 L1427,633.4 L1429,636.1 L1431,638.7 L1433,641.3 L1435,643.7 L1437,646.1 L1439,648.3 L1441,650.5 L1443,652.5 L1445,654.5 L1447,656.3 L1449,658.1 L1451,659.8 L1453,661.3 L1455,662.8 L1457,664.2 L1459,665.5 L1461,666.7 L1463,667.8 L1465,668.9 L1467,669.9 L1469,670.8 L1471,671.6 L1473,672.4 L1475,673.1 L1477,673.8 L1479,674.4 L1481,674.9 L1483,675.5 L1485,675.9 L1487,676.4 L1489,676.7 L1491,677.1 L1493,677.4 L1495,677.7 L1497,678 L1499,678.2 L1501,678.4 L1503,678.6 L1505,678.8 L1507,679 L1509,679.1 L1511,679.2 L1513,679.4 L1515,679.5 L1517,679.6 L1519,679.6 L1521,679.7 L1523,679.8 L1525,679.9 L1527,679.9 L1529,680 L1531,680 L1533,680.1 L1535,680.1 L1537,680.1 L1539,680.2 L1541,680.2 L1543,680.2 L1545,680.2 L1547,680.3 L1549,680.3 L1551,680.3 L1553,680.3 L1555,680.4 L1557,680.4 L1559,680.4 L1561,680.4 L1563,680.4 L1565,680.4 L1567,680.5 L1569,680.5 L1571,680.5 L1573,680.5 L1575,680.5 L1577,680.5 L1579,680.6 L1581,680.6 L1583,680.6 L1585,680.6 L1587,680.6 L1589,680.6 L1591,680.6 L1593,680.6 L1595,680.6 L1597,680.7 L1599,680.7 L1601,680.7 L1603,680.7 L1605,680.7 L1607,680.7 L1609,680.7 L1611,680.7 L1613,680.8 L1615,680.8 L1617,680.8 L1619,680.8 L1621,680.8 L1623,680.8 L1625,680.8 L1627,680.8 L1629,680.8 L1631,680.8 L1633,680.9 L1635,680.9 L1637,680.9 L1639,680.9 L1641,680.9 L1643,680.9 L1645,680.9 L1647,680.9 L1649,680.9 L1651,680.9 L1653,680.9 L1655,681 L1657,681 L1659,681 L1661,681 L1663,681 L1665,681 L1667,681 L1669,681 L1671,681 L1673,681 L1675,681 L1677,681.1 L1679,681.1 L1681,681.1 L1683,681.1 L1685,681.1 L1687,681.1 L1689,681.1 L1691,681.1 L1693,681.1 L1695,681.1 L1697,681.1 L1699,681.1 L1701,681.2 L1703,681.2 L1705,681.2 L1707,681.2 L1709,681.2 L1711,681.2 L1713,681.2 L1715,681.2 L1717,681.2 L1719,681.2 L1721,681.2 L1723,681.2 L1725,681.2 L1727,681.3 L1729,681.3 L1731,681.3 L1733,681.3 L1735,681.3 L1737,681.3 L1739,681.3 L1741,681.3 L1743,681.3 L1745,681.3 L1747,681.3 L1749,681.3 L1751,681.3 L1753,681.4 L1755,681.4 L1757,681.4 L1759,681.4 L1761,681.4 L1763,681.4 L1765,681.4 L1767,681.4 L1769,681.4 L1771,681.4 L1773,681.4 L1775,681.4 L1777,681.4 L1779,681.5 L1781,681.5 L1783,681.5 L1785,681.5 L1787,681.5 L1789,681.5 L1791,681.5 L1793,681.5 L1795,681.5 L1797,681.5 L1799,681.5 L1801,681.5 L1803,681.5 L1805,681.5 L1807,681.6 L1809,681.6 L1811,681.6 L1813,681.6 L1815,681.6 L1817,681.6 L1819,681.6 L1821,681.6 L1823,681.6 L1825,681.6 L1827,681.6 L1829,681.6 L1831,681.6 L1833,681.6 L1835,681.6 L1837,681.7 L1839,681.7 L1841,681.7 L1843,681.7 L1845,681.7 L1847,681.7 L1849,681.7 L1851,681.7 L1853,681.7 L1855,681.7 L1857,681.7 L1859,681.7 L1861,681.7 L1863,681.7 L1865,681.8 L1867,681.8 L1869,681.8 L1871,681.8 L1873,681.8 L1875,681.8 L1877,681.8 L1879,681.8 L1881,681.8 L1883,681.8 L1885,681.8 L1887,681.8 L1889,681.8 L1891,681.8 L1893,681.8 L1895,681.9 L1897,681.9 L1899,681.9 L1901,681.9 L1903,681.9 L1905,681.9 L1907,681.9 L1909,681.9 L1911,681.9 L1913,681.9 L1915,681.9 L1917,681.9 L1919,681.9 L1921,681.9 L1923,681.9 L1925,682 L1927,682 L1929,682 L1931,682 L1933,682 L1935,682 L1937,682 L1939,682 L1941,682 L1943,682 L1945,682 L1947,682 L1949,682 L1951,682 L1953,682 L1955,682.1 L1957,682.1 L1959,682.1 L1961,682.1 L1963,682.1 L1965,682.1 L1967,682.1 L1969,682.1 L1971,682.1 L1973,682.1 L1975,682.1 L1977,682.1 L1979,682.1 L1981,682.1 L1983,682.1 L1985,682.2 L1987,682.2 L1989,682.2 L1991,682.2 L1993,682.2 L1995,682.2 L1997,682.2 L1999,682.2 L2001,682.2 L2003,682.2 L2005,682.2 L2007,682.2 L2009,682.2 L2011,682.2 L2013,682.2 L2015,682.3 L2017,682.3 L2019,682.3 L2021,682.3 L2023,682.3 L2025,682.3 L2027,682.3 L2029,682.3 L2031,682.3 L2033,682.3 L2035,682.3 L2037,682.3 L2039,682.3 L2041,682.3 L2043,682.3 L2045,682.3 L2047,682.4 L2049,682.4 L2051,682.4 L2053,682.4 L2055,682.4 L2057,682.4 L2059,682.4 L2061,682.4 L2063,682.4 L2065,682.4 L2067,682.4 L2069,682.4 L2071,682.4 L2073,682.4 L2075,682.4 L2077,682.5 L2079,682.5 L2080,682.5" stroke="#FF0000" stroke-dasharray="14 7.5 3 7.5" stroke-dashoffset="6"/>
<path d="M1121,678.8 L1123,678.8 L1125,678.8 L1127,678.8 L1129,678.8 L1131,678.9 L1133,678.9 L1135,678.9 L1137,678.9 L1139,678.9 L1141,678.9 L1143,678.9 L1145,678.9 L1147,678.9 L1149,679 L1151,679 L1153,679 L1155,679 L1157,679 L1159,679 L1161,679 L1163,679 L1165,679 L1167,679 L1169,679.1 L1171,679.1 L1173,679.1 L1175,679.1 L1177,679.1 L1179,679.1 L1181,679.1 L1183,679.1 L1185,679.1 L1187,679.2 L1189,679.2 L1191,679.2 L1193,679.2 L1195,679.2 L1197,679.2 L1199,679.2 L1201,679.2 L1203,679.2 L1205,679.3 L1207,679.3 L1209,679.3 L1211,679.3 L1213,679.3 L1215,679.3 L1217,679.3 L1219,679.3 L1221,679.3 L1223,679.3 L1225,679.4 L1227,679.4 L1229,679.4 L1231,679.4 L1233,679.4 L1235,679.4 L1237,679.4 L1239,679.4 L1241,679.4 L1243,679.4 L1245,679.5 L1247,679.5 L1249,679.5 L1251,679.5 L1253,679.5 L1255,679.5 L1257,679.5 L1259,679.5 L1261,679.5 L1263,679.5 L1265,679.5 L1267,679.6 L1269,679.6 L1271,679.6 L1273,679.6 L1275,679.6 L1277,679.6 L1279,679.6 L1281,679.6 L1283,679.6 L1285,679.6 L1287,679.6 L1289,679.6 L1291,679.6 L1293,679.6 L1295,679.6 L1297,679.6 L1299,679.6 L1301,679.6 L1303,679.6 L1305,679.6 L1307,679.6 L1309,679.6 L1311,679.6 L1313,679.6 L1315,679.5 L1317,679.5 L1319,679.5 L1321,679.5 L1323,679.5 L1325,679.5 L1327,679.4 L1329,679.4 L1331,679.4 L1333,679.3 L1335,679.3 L1337,679.3 L1339,679.2 L1341,679.2 L1343,679.1 L1345,679 L1347,679 L1349,678.9 L1351,678.8 L1353,678.8 L1355,678.7 L1357,678.6 L1359,678.5 L1361,678.4 L1363,678.3 L1365,678.2 L1367,678 L1369,677.9 L1371,677.7 L1373,677.6 L1375,677.4 L1377,677.2 L1379,677.1 L1381,676.9 L1383,676.7 L1385,676.4 L1387,676.2 L1389,675.9 L1391,675.7 L1393,675.4 L1395,675.1 L1397,674.8 L1399,674.5 L1401,674.1 L1403,673.7 L1405,673.4 L1407,672.9 L1409,672.5 L1411,672.1 L1413,671.6 L1415,671.1 L1417,670.6 L1419,670 L1421,669.5 L1423,668.9 L1425,668.2 L1427,667.6 L1429,666.9 L1431,666.2 L1433,665.4 L1435,664.7 L1437,663.9 L1439,663 L1441,662.1 L1443,661.2 L1445,660.3 L1447,659.3 L1449,658.3 L1451,657.2 L1453,656.1 L1455,655 L1457,653.8 L1459,652.6 L1461,651.3 L1463,650 L1465,648.6 L1467,647.2 L1469,645.8 L1471,644.3 L1473,642.8 L1475,641.2 L1477,639.6 L1479,638 L1481,636.2 L1483,634.5 L1485,632.7 L1487,630.8 L1489,629 L1491,627 L1493,625 L1495,623 L1497,620.9 L1499,618.8 L1501,616.7 L1503,614.5 L1505,612.2 L1507,610 L1509,607.6 L1511,605.3 L1513,602.9 L1515,600.5 L1517,598 L1519,595.5 L1521,593 L1523,590.4 L1525,587.8 L1527,585.2 L1529,582.6 L1531,579.9 L1533,577.2 L1535,574.5 L1537,571.8 L1539,569.1 L1541,566.4 L1543,563.6 L1545,560.9 L1547,558.1 L1549,555.4 L1551,552.6 L1553,549.9 L1555,547.1 L1557,544.4 L1559,541.7 L1561,539 L1563,536.3 L1565,533.7 L1567,531.1 L1569,528.5 L1571,525.9 L1573,523.4 L1575,520.9 L1577,518.5 L1579,516.1 L1581,513.7 L1583,511.5 L1585,509.2 L1587,507 L1589,504.9 L1591,502.9 L1593,500.9 L1595,499 L1597,497.1 L1599,495.4 L1601,493.7 L1603,492.1 L1605,490.6 L1607,489.1 L1609,487.8 L1611,486.5 L1613,485.3 L1615,484.2 L1617,483.3 L1619,482.4 L1621,481.6 L1623,480.9 L1625,480.3 L1627,479.8 L1629,479.4 L1631,479.1 L1633,478.9 L1635,478.8 L1637,478.8 L1639,478.9 L1641,479.2 L1643,479.5 L1645,479.9 L1647,480.5 L1649,481.2 L1651,481.9 L1653,482.8 L1655,483.8 L1657,484.9 L1659,486 L1661,487.3 L1663,488.7 L1665,490.2 L1667,491.7 L1669,493.4 L1671,495.1 L1673,496.9 L1675,498.8 L1677,500.8 L1679,502.9 L1681,505 L1683,507.2 L1685,509.4 L1687,511.8 L1689,514.2 L1691,516.6 L1693,519.1 L1695,521.6 L1697,524.2 L1699,526.9 L1701,529.5 L1703,532.2 L1705,535 L1707,537.7 L1709,540.5 L1711,543.3 L1713,546.2 L1715,549 L1717,551.9 L1719,554.7 L1721,557.6 L1723,560.5 L1725,563.4 L1727,566.2 L1729,569.1 L1731,571.9 L1733,574.8 L1735,577.6 L1737,580.4 L1739,583.2 L1741,585.9 L1743,588.6 L1745,591.4 L1747,594 L1749,596.7 L1751,599.3 L1753,601.8 L1755,604.4 L1757,606.9 L1759,609.3 L1761,611.7 L1763,614.1 L1765,616.5 L1767,618.7 L1769,621 L1771,623.2 L1773,625.3 L1775,627.4 L1777,629.5 L1779,631.5 L1781,633.4 L1783,635.3 L1785,637.2 L1787,639 L1789,640.8 L1791,642.5 L1793,644.1 L1795,645.7 L1797,647.3 L1799,648.8 L1801,650.3 L1803,651.7 L1805,653.1 L1807,654.4 L1809,655.7 L1811,657 L1813,658.2 L1815,659.3 L1817,660.4 L1819,661.5 L1821,662.5 L1823,663.5 L1825,664.5 L1827,665.4 L1829,666.3 L1831,667.1 L1833,668 L1835,668.7 L1837,669.5 L1839,670.2 L1841,670.9 L1843,671.5 L1845,672.1 L1847,672.7 L1849,673.3 L1851,673.8 L1853,674.4 L1855,674.9 L1857,675.3 L1859,675.8 L1861,676.2 L1863,676.6 L1865,677 L1867,677.3 L1869,677.7 L1871,678 L1873,678.3 L1875,678.6 L1877,678.9 L1879,679.2 L1881,679.4 L1883,679.7 L1885,679.9 L1887,680.1 L1889,680.3 L1891,680.5 L1893,680.7 L1895,680.8 L1897,681 L1899,681.1 L1901,681.3 L1903,681.4 L1905,681.5 L1907,681.6 L1909,681.8 L1911,681.9 L1913,682 L1915,682.1 L1917,682.1 L1919,682.2 L1921,682.3 L1923,682.4 L1925,682.4 L1927,682.5 L1929,682.6 L1931,682.6 L1933,682.7 L1935,682.7 L1937,682.8 L1939,682.8 L1941,682.9 L1943,682.9 L1945,682.9 L1947,683 L1949,683 L1951,683.1 L1953,683.1 L1955,683.1 L1957,683.1 L1959,683.2 L1961,683.2 L1963,683.2 L1965,683.2 L1967,683.3 L1969,683.3 L1971,683.3 L1973,683.3 L1975,683.3 L1977,683.4 L1979,683.4 L1981,683.4 L1983,683.4 L1985,683.4 L1987,683.4 L1989,683.5 L1991,683.5 L1993,683.5 L1995,683.5 L1997,683.5 L1999,683.5 L2001,683.5 L2003,683.6 L2005,683.6 L2007,683.6 L2009,683.6 L2011,683.6 L2013,683.6 L2015,683.6 L2017,683.6 L2019,683.7 L2021,683.7 L2023,683.7 L2025,683.7 L2027,683.7 L2029,683.7 L2031,683.7 L2033,683.7 L2035,683.8 L2037,683.8 L2039,683.8 L2041,683.8 L2043,683.8 L2045,683.8 L2047,683.8 L2049,683.8 L2051,683.8 L2053,683.9 L2055,683.9 L2057,683.9 L2059,683.9 L2061,683.9 L2063,683.9 L2065,683.9 L2067,683.9 L2069,683.9 L2071,684 L2073,684 L2075,684 L2077,684 L2079,684 L2080,684" stroke="#0000FF" stroke-dasharray="14 7.5 3 7.5" stroke-dashoffset="28"/>
<path d="M1121,680.3 L1123,680.3 L1125,680.3 L1127,680.3 L1129,680.3 L1131,680.3 L1133,680.3 L1135,680.3 L1137,680.3 L1139,680.3 L1141,680.3 L1143,680.4 L1145,680.4 L1147,680.4 L1149,680.4 L1151,680.4 L1153,680.4 L1155,680.4 L1157,680.4 L1159,680.4 L1161,680.4 L1163,680.4 L1165,680.4 L1167,680.4 L1169,680.4 L1171,680.4 L1173,680.4 L1175,680.4 L1177,680.4 L1179,680.4 L1181,680.4 L1183,680.4 L1185,680.4 L1187,680.5 L1189,680.5 L1191,680.5 L1193,680.5 L1195,680.5 L1197,680.5 L1199,680.5 L1201,680.5 L1203,680.5 L1205,680.5 L1207,680.5 L1209,680.5 L1211,680.5 L1213,680.5 L1215,680.5 L1217,680.5 L1219,680.5 L1221,680.5 L1223,680.5 L1225,680.5 L1227,680.5 L1229,680.5 L1231,680.6 L1233,680.6 L1235,680.6 L1237,680.6 L1239,680.6 L1241,680.6 L1243,680.6 L1245,680.6 L1247,680.6 L1249,680.6 L1251,680.6 L1253,680.6 L1255,680.6 L1257,680.6 L1259,680.6 L1261,680.6 L1263,680.6 L1265,680.6 L1267,680.6 L1269,680.6 L1271,680.6 L1273,680.6 L1275,680.7 L1277,680.7 L1279,680.7 L1281,680.7 L1283,680.7 L1285,680.7 L1287,680.7 L1289,680.7 L1291,680.7 L1293,680.7 L1295,680.7 L1297,680.7 L1299,680.7 L1301,680.7 L1303,680.7 L1305,680.7 L1307,680.7 L1309,680.7 L1311,680.7 L1313,680.7 L1315,680.7 L1317,680.7 L1319,680.8 L1321,680.8 L1323,680.8 L1325,680.8 L1327,680.8 L1329,680.8 L1331,680.8 L1333,680.8 L1335,680.8 L1337,680.8 L1339,680.8 L1341,680.8 L1343,680.8 L1345,680.8 L1347,680.8 L1349,680.8 L1351,680.8 L1353,680.8 L1355,680.8 L1357,680.8 L1359,680.8 L1361,680.9 L1363,680.9 L1365,680.9 L1367,680.9 L1369,680.9 L1371,680.9 L1373,680.9 L1375,680.9 L1377,680.9 L1379,680.9 L1381,680.9 L1383,680.9 L1385,680.9 L1387,680.9 L1389,680.9 L1391,680.9 L1393,680.9 L1395,680.9 L1397,680.9 L1399,680.9 L1401,680.9 L1403,680.9 L1405,681 L1407,681 L1409,681 L1411,681 L1413,681 L1415,681 L1417,681 L1419,681 L1421,681 L1423,681 L1425,681 L1427,681 L1429,681 L1431,681 L1433,681 L1435,681 L1437,681 L1439,681 L1441,681 L1443,681 L1445,681 L1447,681 L1449,681.1 L1451,681.1 L1453,681.1 L1455,681.1 L1457,681.1 L1459,681.1 L1461,681.1 L1463,681.1 L1465,681.1 L1467,681.1 L1469,681.1 L1471,681.1 L1473,681.1 L1475,681.1 L1477,681.1 L1479,681.1 L1481,681.1 L1483,681.1 L1485,681.1 L1487,681.1 L1489,681.1 L1491,681.1 L1493,681.2 L1495,681.2 L1497,681.2 L1499,681.2 L1501,681.2 L1503,681.2 L1505,681.2 L1507,681.2 L1509,681.2 L1511,681.2 L1513,681.2 L1515,681.2 L1517,681.2 L1519,681.2 L1521,681.2 L1523,681.2 L1525,681.2 L1527,681.2 L1529,681.2 L1531,681.2 L1533,681.2 L1535,681.2 L1537,681.3 L1539,681.3 L1541,681.3 L1543,681.3 L1545,681.3 L1547,681.3 L1549,681.3 L1551,681.3 L1553,681.3 L1555,681.3 L1557,681.3 L1559,681.3 L1561,681.3 L1563,681.3 L1565,681.3 L1567,681.3 L1569,681.3 L1571,681.3 L1573,681.3 L1575,681.3 L1577,681.3 L1579,681.4 L1581,681.4 L1583,681.4 L1585,681.4 L1587,681.4 L1589,681.4 L1591,681.4 L1593,681.4 L1595,681.4 L1597,681.4 L1599,681.4 L1601,681.4 L1603,681.4 L1605,681.4 L1607,681.4 L1609,681.4 L1611,681.4 L1613,681.4 L1615,681.4 L1617,681.4 L1619,681.4 L1621,681.4 L1623,681.5 L1625,681.5 L1627,681.5 L1629,681.5 L1631,681.5 L1633,681.5 L1635,681.5 L1637,681.5 L1639,681.5 L1641,681.5 L1643,681.5 L1645,681.5 L1647,681.5 L1649,681.5 L1651,681.5 L1653,681.5 L1655,681.5 L1657,681.5 L1659,681.5 L1661,681.5 L1663,681.5 L1665,681.5 L1667,681.5 L1669,681.5 L1671,681.5 L1673,681.5 L1675,681.5 L1677,681.5 L1679,681.5 L1681,681.5 L1683,681.5 L1685,681.5 L1687,681.5 L1689,681.5 L1691,681.5 L1693,681.5 L1695,681.5 L1697,681.5 L1699,681.5 L1701,681.4 L1703,681.4 L1705,681.4 L1707,681.4 L1709,681.3 L1711,681.3 L1713,681.3 L1715,681.2 L1717,681.2 L1719,681.1 L1721,681.1 L1723,681 L1725,680.9 L1727,680.8 L1729,680.7 L1731,680.6 L1733,680.5 L1735,680.4 L1737,680.3 L1739,680.1 L1741,680 L1743,679.8 L1745,679.6 L1747,679.4 L1749,679.2 L1751,679 L1753,678.7 L1755,678.4 L1757,678.1 L1759,677.8 L1761,677.5 L1763,677.2 L1765,676.8 L1767,676.4 L1769,676 L1771,675.5 L1773,675.1 L1775,674.6 L1777,674.1 L1779,673.5 L1781,673 L1783,672.4 L1785,671.8 L1787,671.2 L1789,670.5 L1791,669.9 L1793,669.2 L1795,668.5 L1797,667.8 L1799,667 L1801,666.3 L1803,665.5 L1805,664.7 L1807,664 L1809,663.2 L1811,662.4 L1813,661.6 L1815,660.8 L1817,660 L1819,659.2 L1821,658.5 L1823,657.7 L1825,657 L1827,656.2 L1829,655.5 L1831,654.9 L1833,654.2 L1835,653.6 L1837,653 L1839,652.4 L1841,651.9 L1843,651.4 L1845,651 L1847,650.6 L1849,650.3 L1851,650 L1853,649.7 L1855,649.5 L1857,649.4 L1859,649.3 L1861,649.2 L1863,649.2 L1865,649.3 L1867,649.4 L1869,649.5 L1871,649.7 L1873,650 L1875,650.3 L1877,650.7 L1879,651.1 L1881,651.5 L1883,652 L1885,652.5 L1887,653.1 L1889,653.7 L1891,654.3 L1893,655 L1895,655.7 L1897,656.4 L1899,657.1 L1901,657.9 L1903,658.7 L1905,659.4 L1907,660.2 L1909,661 L1911,661.8 L1913,662.6 L1915,663.4 L1917,664.2 L1919,665 L1921,665.8 L1923,666.6 L1925,667.3 L1927,668.1 L1929,668.8 L1931,669.5 L1933,670.2 L1935,670.9 L1937,671.5 L1939,672.2 L1941,672.8 L1943,673.4 L1945,673.9 L1947,674.5 L1949,675 L1951,675.5 L1953,675.9 L1955,676.4 L1957,676.8 L1959,677.2 L1961,677.6 L1963,678 L1965,678.3 L1967,678.6 L1969,678.9 L1971,679.2 L1973,679.5 L1975,679.7 L1977,679.9 L1979,680.1 L1981,680.3 L1983,680.5 L1985,680.7 L1987,680.8 L1989,681 L1991,681.1 L1993,681.2 L1995,681.4 L1997,681.5 L1999,681.5 L2001,681.6 L2003,681.7 L2005,681.8 L2007,681.8 L2009,681.9 L2011,682 L2013,682 L2015,682 L2017,682.1 L2019,682.1 L2021,682.2 L2023,682.2 L2025,682.2 L2027,682.2 L2029,682.3 L2031,682.3 L2033,682.3 L2035,682.3 L2037,682.3 L2039,682.3 L2041,682.4 L2043,682.4 L2045,682.4 L2047,682.4 L2049,682.4 L2051,682.4 L2053,682.4 L2055,682.4 L2057,682.4 L2059,682.4 L2061,682.4 L2063,682.5 L2065,682.5 L2067,682.5 L2069,682.5 L2071,682.5 L2073,682.5 L2075,682.5 L2077,682.5 L2079,682.5 L2080,682.5" stroke="#FF00FF" stroke-dasharray="14 7.5 3 7.5" stroke-dashoffset="19"/>
<path d="M1121,681.5 L1123,681.5 L1125,681.5 L1127,681.5 L1129,681.5 L1131,681.5 L1133,681.5 L1135,681.5 L1137,681.5 L1139,681.5 L1141,681.5 L1143,681.5 L1145,681.5 L1147,681.5 L1149,681.5 L1151,681.5 L1153,681.5 L1155,681.5 L1157,681.5 L1159,681.5 L1161,681.5 L1163,681.5 L1165,681.5 L1167,681.5 L1169,681.5 L1171,681.5 L1173,681.5 L1175,681.5 L1177,681.5 L1179,681.5 L1181,681.5 L1183,681.5 L1185,681.5 L1187,681.5 L1189,681.5 L1191,681.5 L1193,681.5 L1195,681.5 L1197,681.5 L1199,681.5 L1201,681.5 L1203,681.5 L1205,681.5 L1207,681.5 L1209,681.5 L1211,681.5 L1213,681.5 L1215,681.5 L1217,681.6 L1219,681.6 L1221,681.6 L1223,681.6 L1225,681.6 L1227,681.6 L1229,681.6 L1231,681.6 L1233,681.6 L1235,681.6 L1237,681.6 L1239,681.6 L1241,681.6 L1243,681.6 L1245,681.6 L1247,681.6 L1249,681.6 L1251,681.6 L1253,681.6 L1255,681.6 L1257,681.6 L1259,681.6 L1261,681.6 L1263,681.6 L1265,681.6 L1267,681.6 L1269,681.6 L1271,681.6 L1273,681.6 L1275,681.6 L1277,681.6 L1279,681.6 L1281,681.6 L1283,681.6 L1285,681.6 L1287,681.6 L1289,681.6 L1291,681.6 L1293,681.6 L1295,681.6 L1297,681.6 L1299,681.6 L1301,681.6 L1303,681.6 L1305,681.6 L1307,681.6 L1309,681.6 L1311,681.6 L1313,681.6 L1315,681.6 L1317,681.6 L1319,681.6 L1321,681.6 L1323,681.6 L1325,681.6 L1327,681.6 L1329,681.6 L1331,681.6 L1333,681.6 L1335,681.6 L1337,681.6 L1339,681.6 L1341,681.6 L1343,681.6 L1345,681.6 L1347,681.6 L1349,681.6 L1351,681.6 L1353,681.6 L1355,681.6 L1357,681.6 L1359,681.6 L1361,681.6 L1363,681.6 L1365,681.6 L1367,681.6 L1369,681.6 L1371,681.6 L1373,681.6 L1375,681.6 L1377,681.6 L1379,681.6 L1381,681.6 L1383,681.6 L1385,681.6 L1387,681.6 L1389,681.6 L1391,681.6 L1393,681.6 L1395,681.6 L1397,681.6 L1399,681.6 L1401,681.6 L1403,681.6 L1405,681.6 L1407,681.6 L1409,681.7 L1411,681.7 L1413,681.7 L1415,681.7 L1417,681.7 L1419,681.7 L1421,681.7 L1423,681.7 L1425,681.7 L1427,681.7 L1429,681.7 L1431,681.7 L1433,681.7 L1435,681.7 L1437,681.7 L1439,681.7 L1441,681.7 L1443,681.7 L1445,681.7 L1447,681.7 L1449,681.7 L1451,681.7 L1453,681.7 L1455,681.7 L1457,681.7 L1459,681.7 L1461,681.7 L1463,681.7 L1465,681.7 L1467,681.7 L1469,681.7 L1471,681.7 L1473,681.7 L1475,681.7 L1477,681.7 L1479,681.7 L1481,681.7 L1483,681.7 L1485,681.7 L1487,681.7 L1489,681.7 L1491,681.7 L1493,681.7 L1495,681.7 L1497,681.7 L1499,681.7 L1501,681.7 L1503,681.7 L1505,681.7 L1507,681.7 L1509,681.7 L1511,681.7 L1513,681.7 L1515,681.7 L1517,681.7 L1519,681.7 L1521,681.7 L1523,681.7 L1525,681.7 L1527,681.7 L1529,681.7 L1531,681.7 L1533,681.7 L1535,681.7 L1537,681.7 L1539,681.7 L1541,681.7 L1543,681.7 L1545,681.7 L1547,681.7 L1549,681.7 L1551,681.7 L1553,681.7 L1555,681.7 L1557,681.7 L1559,681.7 L1561,681.7 L1563,681.7 L1565,681.7 L1567,681.7 L1569,681.7 L1571,681.7 L1573,681.7 L1575,681.7 L1577,681.7 L1579,681.7 L1581,681.7 L1583,681.7 L1585,681.7 L1587,681.7 L1589,681.7 L1591,681.7 L1593,681.7 L1595,681.7 L1597,681.7 L1599,681.7 L1601,681.8 L1603,681.8 L1605,681.8 L1607,681.8 L1609,681.8 L1611,681.8 L1613,681.8 L1615,681.8 L1617,681.8 L1619,681.8 L1621,681.8 L1623,681.8 L1625,681.8 L1627,681.8 L1629,681.8 L1631,681.8 L1633,681.8 L1635,681.8 L1637,681.8 L1639,681.8 L1641,681.8 L1643,681.8 L1645,681.8 L1647,681.8 L1649,681.8 L1651,681.8 L1653,681.8 L1655,681.8 L1657,681.8 L1659,681.8 L1661,681.8 L1663,681.8 L1665,681.8 L1667,681.8 L1669,681.8 L1671,681.8 L1673,681.8 L1675,681.8 L1677,681.8 L1679,681.8 L1681,681.8 L1683,681.8 L1685,681.8 L1687,681.8 L1689,681.8 L1691,681.8 L1693,681.8 L1695,681.8 L1697,681.8 L1699,681.8 L1701,681.8 L1703,681.8 L1705,681.8 L1707,681.8 L1709,681.8 L1711,681.8 L1713,681.8 L1715,681.8 L1717,681.8 L1719,681.8 L1721,681.8 L1723,681.8 L1725,681.8 L1727,681.8 L1729,681.8 L1731,681.8 L1733,681.8 L1735,681.8 L1737,681.8 L1739,681.8 L1741,681.8 L1743,681.8 L1745,681.8 L1747,681.8 L1749,681.8 L1751,681.8 L1753,681.8 L1755,681.8 L1757,681.8 L1759,681.8 L1761,681.8 L1763,681.8 L1765,681.8 L1767,681.8 L1769,681.8 L1771,681.8 L1773,681.8 L1775,681.8 L1777,681.8 L1779,681.8 L1781,681.8 L1783,681.8 L1785,681.8 L1787,681.8 L1789,681.8 L1791,681.8 L1793,681.8 L1795,681.8 L1797,681.8 L1799,681.8 L1801,681.7 L1803,681.7 L1805,681.7 L1807,681.7 L1809,681.7 L1811,681.6 L1813,681.6 L1815,681.6 L1817,681.6 L1819,681.5 L1821,681.5 L1823,681.4 L1825,681.4 L1827,681.4 L1829,681.3 L1831,681.2 L1833,681.2 L1835,681.1 L1837,681 L1839,680.9 L1841,680.8 L1843,680.7 L1845,680.6 L1847,680.5 L1849,680.4 L1851,680.3 L1853,680.1 L1855,680 L1857,679.8 L1859,679.7 L1861,679.5 L1863,679.3 L1865,679.1 L1867,678.9 L1869,678.7 L1871,678.4 L1873,678.2 L1875,677.9 L1877,677.7 L1879,677.4 L1881,677.1 L1883,676.8 L1885,676.5 L1887,676.2 L1889,675.9 L1891,675.5 L1893,675.2 L1895,674.9 L1897,674.5 L1899,674.1 L1901,673.8 L1903,673.4 L1905,673.1 L1907,672.7 L1909,672.3 L1911,672 L1913,671.6 L1915,671.2 L1917,670.9 L1919,670.5 L1921,670.2 L1923,669.9 L1925,669.5 L1927,669.2 L1929,668.9 L1931,668.6 L1933,668.4 L1935,668.1 L1937,667.9 L1939,667.7 L1941,667.5 L1943,667.3 L1945,667.2 L1947,667 L1949,666.9 L1951,666.8 L1953,666.8 L1955,666.7 L1957,666.7 L1959,666.7 L1961,666.8 L1963,666.8 L1965,666.9 L1967,667 L1969,667.1 L1971,667.2 L1973,667.3 L1975,667.5 L1977,667.7 L1979,667.8 L1981,668 L1983,668.3 L1985,668.5 L1987,668.7 L1989,669 L1991,669.2 L1993,669.5 L1995,669.8 L1997,670.1 L1999,670.4 L2001,670.7 L2003,671 L2005,671.3 L2007,671.6 L2009,671.9 L2011,672.3 L2013,672.6 L2015,672.9 L2017,673.2 L2019,673.6 L2021,673.9 L2023,674.2 L2025,674.5 L2027,674.8 L2029,675.1 L2031,675.4 L2033,675.7 L2035,676 L2037,676.3 L2039,676.6 L2041,676.8 L2043,677.1 L2045,677.4 L2047,677.6 L2049,677.9 L2051,678.1 L2053,678.3 L2055,678.5 L2057,678.7 L2059,678.9 L2061,679.1 L2063,679.3 L2065,679.5 L2067,679.6 L2069,679.8 L2071,679.9 L2073,680.1 L2075,680.2 L2077,680.3 L2079,680.5 L2080,680.5" stroke="#008000" stroke-dasharray="14 7.5 3 7.5" stroke-dashoffset="19"/>
<path d="M1121,678.5 C1134.2,678.5 1183.4,678.9 1200,678.5 C1216.6,678.1 1212.2,677.6 1220.6,676.2 C1229,674.8 1241.8,673.3 1250.4,670.2 C1259,667.1 1265.8,662.7 1272,657.4 C1278.2,652.1 1282.9,645 1287.9,638.2 C1293,631.4 1298.2,624 1302.3,616.7 C1306.4,609.4 1309.2,602 1312.7,594.3 C1316.2,586.6 1319.8,578.4 1323.1,570.4 C1326.4,562.4 1329.9,554.1 1332.7,546.4 C1335.5,538.7 1337.6,531.4 1340,524 C1342.4,516.6 1344.7,509 1347,502 C1349.3,495 1351.5,488.7 1354,482 C1356.5,475.3 1359.2,469.3 1362,462 C1364.8,454.7 1368.2,446.8 1371,438 C1373.8,429.2 1376.5,418.7 1379,409 C1381.5,399.3 1383.9,389.5 1386,380 C1388.1,370.5 1389.7,361.2 1391.5,352 C1393.3,342.8 1395.2,335 1397,325 C1398.8,315 1400.8,301.8 1402.5,292 C1404.2,282.2 1405.7,274.5 1407.5,266 C1409.3,257.5 1411.7,249.2 1413.5,241 C1415.3,232.8 1416.7,225 1418.5,217 C1420.3,209 1422.7,201 1424.5,193 C1426.3,185 1427.6,177 1429.5,169 C1431.4,161 1434,151.5 1436,145 C1438,138.5 1439.6,134 1441.5,130 C1443.4,126 1445.4,123.5 1447.5,121 C1449.6,118.5 1451.9,116 1454,115.3 C1456.1,114.5 1458,114.8 1460,116.5 C1462,118.2 1464.1,122.4 1466,125.8 C1467.9,129.2 1469.8,133 1471.5,137 C1473.2,141 1474.6,145.8 1476,150 C1477.4,154.2 1478.5,155.8 1480,162 C1481.5,168.2 1483.3,178.7 1485,187 C1486.7,195.3 1488.3,203.7 1490,212 C1491.7,220.3 1493.3,228.7 1495,237 C1496.7,245.3 1498.1,253.7 1500,262 C1501.9,270.3 1504.3,278.7 1506.5,287 C1508.7,295.3 1510.9,303 1513,312 C1515.1,321 1517.1,332.7 1519,341 C1520.9,349.3 1522.6,355 1524.5,362 C1526.4,369 1528.6,376.3 1530.5,383 C1532.4,389.7 1534.1,396.1 1535.8,402 C1537.5,407.9 1538.8,412.1 1540.5,418.6 C1542.2,425.1 1543.5,433.6 1546,441.1 C1548.5,448.6 1550.8,457 1555.3,463.7 C1559.8,470.4 1565.9,477.9 1572.8,481.2 C1579.7,484.4 1589.2,484.1 1596.4,483.2 C1603.6,482.3 1610.8,477 1616,476 C1621.2,475 1622.8,477 1627.4,477.1 C1632,477.2 1639.6,476.6 1643.4,476.6 C1647.2,476.6 1646.2,474.8 1650.2,477 C1654.2,479.2 1661.5,484.7 1667.4,489.7 C1673.3,494.7 1680.1,500.7 1685.6,506.8 C1691.1,512.9 1695.3,519 1700.5,526.2 C1705.7,533.4 1711.7,543.5 1716.5,550.2 C1721.3,556.9 1724.6,560.3 1729.2,566.3 C1733.8,572.3 1738.7,579.5 1744.2,586.2 C1749.7,592.9 1755.8,600.8 1762,606.7 C1768.2,612.6 1773.9,617.5 1781.2,621.8 C1788.5,626.1 1798.1,630.4 1805.9,632.7 C1813.7,635 1822.5,634.8 1827.8,635.5 C1833.1,636.2 1832.3,636.7 1837.7,637 C1843.1,637.3 1852.6,637.2 1860,637.5 C1867.4,637.8 1875.2,638.2 1882,639 C1888.8,639.8 1895.9,640.5 1900.9,642 C1905.9,643.5 1907.8,646.6 1912.2,648.3 C1916.7,650 1923.5,651.2 1927.6,652.4 C1931.7,653.6 1932.6,654.3 1936.8,655.5 C1941,656.7 1946,658.1 1953,659.5 C1960,660.9 1970.1,662 1979,663.6 C1987.9,665.2 1997.9,667 2006.6,668.9 C2015.3,670.8 2023.3,673.2 2031.3,675 C2039.3,676.8 2046.6,679.6 2054.7,679.9 C2062.8,680.2 2075.8,677.5 2080,677" stroke="#000080" stroke-dasharray="12 13" stroke-dashoffset="5"/>
<path d="M1121,678 C1123.4,677.9 1130.6,678.1 1135.2,677.1 C1139.8,676.1 1144,673.6 1148.8,672.3 C1153.6,671 1157.8,669.9 1164.3,669.4 C1170.8,668.9 1180.5,669.7 1187.6,669.4 C1194.7,669.1 1200.5,668.5 1207,667.4 C1213.5,666.3 1220.9,664.3 1226.4,662.6 C1231.9,660.9 1236.1,658.7 1240,657.4 C1243.9,656.1 1246.1,655.8 1249.6,655 C1253.1,654.2 1257.1,653.7 1260.8,652.6 C1264.5,651.5 1268,651.4 1272,648.6 C1276,645.8 1282,638.9 1284.7,635.8 C1287.4,632.7 1287.1,631.8 1288.3,629.8 C1289.5,627.8 1290.7,625.8 1291.8,623.8 C1292.9,621.8 1294.1,619.8 1295.1,617.8 C1296.2,615.8 1297.3,613.8 1298.4,611.8 C1299.4,609.8 1300.5,607.8 1301.5,605.8 C1302.5,603.8 1303.5,601.8 1304.5,599.8 C1305.5,597.8 1306.4,595.8 1307.4,593.8 C1308.3,591.8 1309.2,589.8 1310.2,587.8 C1311.1,585.8 1312,583.8 1312.9,581.8 C1313.8,579.8 1314.6,577.8 1315.5,575.8 C1316.4,573.8 1317.2,571.8 1318,569.8 C1318.9,567.8 1319.7,565.8 1320.5,563.8 C1321.3,561.8 1322.1,559.8 1322.9,557.8 C1323.7,555.8 1324.5,553.8 1325.3,551.8 C1326.1,549.8 1326.9,547.8 1327.6,545.8 C1328.4,543.8 1329.2,541.8 1329.9,539.8 C1330.7,537.8 1331.4,535.8 1332.2,533.8 C1332.9,531.8 1333.7,529.8 1334.4,527.8 C1335.1,525.8 1335.9,523.8 1336.6,521.8 C1337.4,519.8 1338.1,517.8 1338.8,515.8 C1339.6,513.8 1340.3,511.8 1341,509.8 C1341.8,507.8 1342.5,505.8 1343.2,503.8 C1344,501.8 1344.7,499.8 1345.4,497.8 C1346.2,495.8 1346.9,493.8 1347.6,491.8 C1348.3,489.8 1349.1,487.8 1349.8,485.8 C1350.5,483.8 1351.2,481.8 1352,479.8 C1352.7,477.8 1353.4,475.8 1354.1,473.8 C1354.9,471.8 1355.6,469.8 1356.3,467.8 C1357,465.8 1357.8,463.8 1358.5,461.8 C1359.2,459.8 1359.9,457.8 1360.6,455.8 C1361.4,453.8 1362.1,451.8 1362.8,449.8 C1363.5,447.8 1364.2,445.8 1364.9,443.8 C1365.6,441.8 1366.4,439.8 1367.1,437.8 C1367.8,435.8 1368.5,433.8 1369.2,431.8 C1369.9,429.8 1370.6,427.8 1371.2,425.8 C1371.9,423.8 1372.6,421.8 1373.3,419.8 C1374,417.8 1374.6,415.8 1375.3,413.8 C1375.9,411.8 1376.6,409.8 1377.2,407.8 C1377.9,405.8 1378.5,403.8 1379.1,401.8 C1379.8,399.8 1380.4,397.8 1381,395.8 C1381.6,393.8 1382.2,391.8 1382.8,389.8 C1383.4,387.7 1384,385.7 1384.5,383.7 C1385.1,381.7 1385.7,379.7 1386.2,377.7 C1386.8,375.7 1387.3,373.7 1387.9,371.7 C1388.4,369.7 1388.9,367.7 1389.5,365.7 C1390,363.7 1390.5,361.7 1391,359.7 C1391.5,357.7 1392,355.7 1392.5,353.7 C1393,351.7 1393.5,349.7 1394,347.7 C1394.5,345.7 1395,343.7 1395.5,341.7 C1395.9,339.7 1396.4,337.7 1396.9,335.7 C1397.3,333.7 1397.8,331.7 1398.2,329.7 C1398.7,327.7 1399.1,325.7 1399.6,323.7 C1400,321.7 1400.5,319.7 1400.9,317.7 C1401.3,315.7 1401.8,313.7 1402.2,311.7 C1402.6,309.7 1403,307.7 1403.5,305.7 C1403.9,303.7 1404.3,301.7 1404.7,299.7 C1405.1,297.7 1405.5,295.7 1405.9,293.7 C1406.3,291.7 1406.7,289.7 1407.1,287.7 C1407.5,285.7 1407.9,283.7 1408.3,281.7 C1408.7,279.7 1409.1,277.7 1409.5,275.7 C1409.9,273.7 1410.3,271.7 1410.7,269.7 C1411.1,267.7 1411.5,265.7 1411.9,263.7 C1412.3,261.7 1412.6,259.7 1413,257.7 C1413.4,255.7 1413.8,253.7 1414.2,251.7 C1414.6,249.7 1415,247.7 1415.4,245.7 C1415.7,243.7 1416.1,241.7 1416.5,239.7 C1416.9,237.7 1417.3,235.7 1417.7,233.7 C1418.1,231.7 1418.5,229.7 1418.9,227.7 C1419.3,225.7 1419.7,223.7 1420.1,221.7 C1420.5,219.7 1420.9,217.7 1421.3,215.7 C1421.7,213.7 1422.1,211.7 1422.5,209.7 C1422.9,207.7 1423.3,205.7 1423.7,203.7 C1424.1,201.7 1424.5,199.7 1424.9,197.7 C1425.4,195.7 1425.8,193.7 1426.2,191.7 C1426.6,189.7 1427.1,187.7 1427.5,185.7 C1427.9,183.7 1428.4,181.7 1428.8,179.7 C1429.2,177.7 1429.7,175.7 1430.1,173.7 C1430.6,171.7 1431.1,169.7 1431.5,167.7 C1432,165.7 1432.4,163.7 1432.9,161.7 C1433.4,159.7 1433.9,157.7 1434.4,155.7 C1434.8,153.7 1435.3,151.7 1435.8,149.7 C1436.3,147.7 1436.2,147.8 1437.3,143.7 C1438.4,139.6 1441.1,129.6 1442.4,125.4 C1443.7,121.2 1444.2,120.8 1445.3,118.5 C1446.3,116.2 1447.4,113.7 1448.7,111.7 C1450,109.7 1452,107.4 1453.3,106.4 C1454.6,105.4 1455.4,105.8 1456.5,105.8 C1457.6,105.8 1458.5,105.4 1459.8,106.4 C1461.1,107.4 1462.8,109.7 1464.1,111.7 C1465.4,113.7 1466.5,116.3 1467.5,118.5 C1468.5,120.7 1468.8,121.6 1469.9,125 C1471,128.4 1473,135.4 1473.9,138.7 C1474.8,142 1474.9,142.8 1475.4,144.8 C1475.9,146.9 1476.3,148.9 1476.8,150.9 C1477.3,153 1477.7,155 1478.2,157 C1478.6,159.1 1479.1,161.1 1479.5,163.2 C1480,165.2 1480.4,167.2 1480.8,169.3 C1481.3,171.3 1481.7,173.4 1482.1,175.4 C1482.6,177.4 1483,179.5 1483.4,181.5 C1483.8,183.6 1484.2,185.6 1484.6,187.6 C1485,189.7 1485.4,191.7 1485.8,193.7 C1486.2,195.8 1486.6,197.8 1487,199.9 C1487.4,201.9 1487.8,203.9 1488.2,206 C1488.6,208 1489,210.1 1489.4,212.1 C1489.7,214.1 1490.1,216.2 1490.5,218.2 C1490.9,220.2 1491.3,222.3 1491.6,224.3 C1492,226.4 1492.4,228.4 1492.8,230.4 C1493.2,232.5 1493.5,234.5 1493.9,236.6 C1494.3,238.6 1494.7,240.6 1495.1,242.7 C1495.4,244.7 1495.8,246.8 1496.2,248.8 C1496.6,250.8 1497,252.9 1497.4,254.9 C1497.7,256.9 1498.1,259 1498.5,261 C1498.9,263.1 1499.3,265.1 1499.7,267.1 C1500.1,269.2 1500.5,271.2 1500.9,273.3 C1501.3,275.3 1501.7,277.3 1502.1,279.4 C1502.5,281.4 1502.9,283.5 1503.3,285.5 C1503.7,287.5 1504.1,289.6 1504.6,291.6 C1505,293.6 1505.4,295.7 1505.8,297.7 C1506.3,299.8 1506.7,301.8 1507.1,303.8 C1507.6,305.9 1508,307.9 1508.5,310 C1508.9,312 1509.4,314 1509.9,316.1 C1510.3,318.1 1510.8,320.1 1511.3,322.2 C1511.7,324.2 1512.2,326.3 1512.7,328.3 C1513.2,330.3 1513.7,332.4 1514.2,334.4 C1514.7,336.5 1515.2,338.5 1515.7,340.5 C1516.3,342.6 1516.8,344.6 1517.3,346.7 C1517.9,348.7 1518.4,350.7 1519,352.8 C1519.5,354.8 1520.1,356.8 1520.7,358.9 C1521.2,360.9 1521.6,362.3 1522.4,365 C1523.2,367.7 1524.2,370.9 1525.4,375 C1526.6,379.1 1528.2,384.9 1529.8,389.8 C1531.4,394.8 1533.1,399.8 1535,404.7 C1536.9,409.6 1539,415.2 1541,419.5 C1543,423.8 1545.2,427.3 1546.9,430.7 C1548.7,434.1 1549.9,437 1551.5,440 C1553.1,443 1554.8,446 1556.3,448.8 C1557.8,451.6 1559,454.6 1560.7,457 C1562.4,459.4 1564.3,461 1566.4,463.2 C1568.5,465.4 1570.9,468.2 1573.3,470.2 C1575.7,472.2 1578,474 1580.8,475.2 C1583.6,476.4 1587,476.5 1590.2,477.1 C1593.4,477.7 1596.5,478.1 1600,478.8 C1603.5,479.5 1607.6,480.5 1611.4,481.1 C1615.2,481.7 1619,482.3 1622.8,482.3 C1626.6,482.3 1630.5,481.6 1634.3,481.1 C1638.1,480.7 1642.8,479.7 1645.7,479.6 C1648.6,479.5 1649.1,479.7 1651.4,480.6 C1653.7,481.5 1656.9,483.2 1659.4,485.1 C1661.9,487 1663.9,489.5 1666.2,492 C1668.5,494.5 1670.8,497.1 1673.1,500 C1675.4,502.9 1677.6,506.1 1679.9,509.1 C1682.2,512.1 1684.3,515.4 1686.8,518.2 C1689.3,521.1 1692.1,523.5 1694.8,526.2 C1697.5,528.9 1700.3,531.7 1702.8,534.2 C1705.3,536.7 1707.7,538.9 1710,541 C1712.3,543.1 1714.2,544.8 1716.5,546.8 C1718.8,548.8 1720.7,550.2 1723.7,553.3 C1726.7,556.4 1731.3,561.5 1734.7,565.6 C1738.1,569.7 1741,573.9 1744.2,578 C1747.4,582.1 1750.4,586.6 1753.8,590.3 C1757.2,593.9 1761.1,596.9 1764.8,599.9 C1768.5,602.9 1772.1,605.6 1775.8,608.1 C1779.5,610.6 1783,612.4 1786.7,614.9 C1790.4,617.4 1794.1,620.5 1797.7,623.2 C1801.3,626 1804.9,629.1 1808.6,631.4 C1812.2,633.7 1816,635.5 1819.6,636.8 C1823.2,638.1 1826.5,638.7 1830,639 C1833.5,639.3 1836.9,639 1840.3,638.5 C1843.7,638 1847.1,636.7 1850.5,636 C1853.9,635.3 1857.7,634.8 1860.8,634.4 C1863.9,634 1866.4,633.7 1869,633.9 C1871.6,634.1 1873.6,634.5 1876.2,635.4 C1878.8,636.3 1881.8,638 1884.4,639.5 C1887,641 1889,642.4 1891.6,644.2 C1894.2,646 1897.2,648.8 1899.8,650.3 C1902.4,651.8 1904.4,652.9 1907,653.4 C1909.6,653.9 1912.7,653.7 1915.3,653.4 C1917.9,653.1 1919.8,652 1922.4,651.4 C1925,650.8 1928.1,650.1 1930.7,649.8 C1933.3,649.5 1935.2,649.3 1937.8,649.8 C1940.4,650.3 1943.5,651.8 1946.1,652.9 C1948.7,654 1950.6,655 1953.3,656.5 C1956,658 1959.4,660.1 1962.5,661.6 C1965.6,663.1 1967,664.4 1972.1,665.4 C1977.1,666.4 1985.9,666.7 1992.8,667.5 C1999.7,668.3 2006.5,669.1 2013.4,670.2 C2020.3,671.4 2028.3,673.2 2034.1,674.4 C2039.8,675.5 2043.3,676.6 2047.9,677.1 C2052.5,677.6 2056.2,677.3 2061.6,677.1 C2066.9,676.9 2076.9,675.9 2080,675.7" stroke="#8000FF" stroke-width="4"/>
</g>
<g fill="#000">
<rect x="34" y="700" width="959" height="6"/>
<rect x="31.00" y="696" width="6" height="8"/>
<rect x="150.88" y="689" width="6" height="17"/>
<rect x="270.75" y="696" width="6" height="10"/>
<rect x="390.62" y="689" width="6" height="17"/>
<rect x="510.50" y="696" width="6" height="10"/>
<rect x="630.38" y="689" width="6" height="17"/>
<rect x="750.25" y="696" width="6" height="10"/>
<rect x="870.12" y="689" width="6" height="17"/>
<rect x="990.00" y="696" width="6" height="8"/>
<text y="768" class="tl"><tspan x="89.55" y="770" class="hy">-</tspan><tspan x="112.15" y="768" class="one">1</tspan><tspan x="146.75" y="768">2</tspan><tspan x="182.34" y="768">0</tspan></text>
<text y="768" class="tl"><tspan x="329.31" y="770" class="hy">-</tspan><tspan x="351.90" y="768" class="one">1</tspan><tspan x="387.50" y="768" class="one">1</tspan><tspan x="422.09" y="768">0</tspan></text>
<text y="768" class="tl"><tspan x="569.06" y="770" class="hy">-</tspan><tspan x="591.66" y="768" class="one">1</tspan><tspan x="626.25" y="768">0</tspan><tspan x="661.84" y="768">0</tspan></text>
<text y="768" class="tl"><tspan x="826.60" y="770" class="hy">-</tspan><tspan x="848.20" y="768">9</tspan><tspan x="883.79" y="768">0</tspan></text>
<text x="513.5" y="840" text-anchor="middle" class="at">Chemical shift (ppm)</text>
<rect x="1121" y="700" width="959" height="6"/>
<rect x="1118.00" y="696" width="6" height="8"/>
<rect x="1237.88" y="689" width="6" height="17"/>
<rect x="1357.75" y="696" width="6" height="10"/>
<rect x="1477.62" y="689" width="6" height="17"/>
<rect x="1597.50" y="696" width="6" height="10"/>
<rect x="1717.38" y="689" width="6" height="17"/>
<rect x="1837.25" y="696" width="6" height="10"/>
<rect x="1957.12" y="689" width="6" height="17"/>
<rect x="2077.00" y="696" width="6" height="8"/>
<text y="768" class="tl"><tspan x="1176.56" y="770" class="hy">-</tspan><tspan x="1199.15" y="768" class="one">1</tspan><tspan x="1233.74" y="768">2</tspan><tspan x="1269.33" y="768">0</tspan></text>
<text y="768" class="tl"><tspan x="1416.31" y="770" class="hy">-</tspan><tspan x="1438.90" y="768" class="one">1</tspan><tspan x="1474.49" y="768" class="one">1</tspan><tspan x="1509.08" y="768">0</tspan></text>
<text y="768" class="tl"><tspan x="1656.06" y="770" class="hy">-</tspan><tspan x="1678.65" y="768" class="one">1</tspan><tspan x="1713.24" y="768">0</tspan><tspan x="1748.83" y="768">0</tspan></text>
<text y="768" class="tl"><tspan x="1913.60" y="770" class="hy">-</tspan><tspan x="1935.20" y="768">9</tspan><tspan x="1970.79" y="768">0</tspan></text>
<text x="1600.5" y="840" text-anchor="middle" class="at">Chemical shift (ppm)</text>
<text x="875.1" y="113" class="tt">CB</text>
<text x="1920.9" y="108" class="tt">MB<tspan dx="-2">4</tspan></text>
</g>
</svg>
</body></html>
